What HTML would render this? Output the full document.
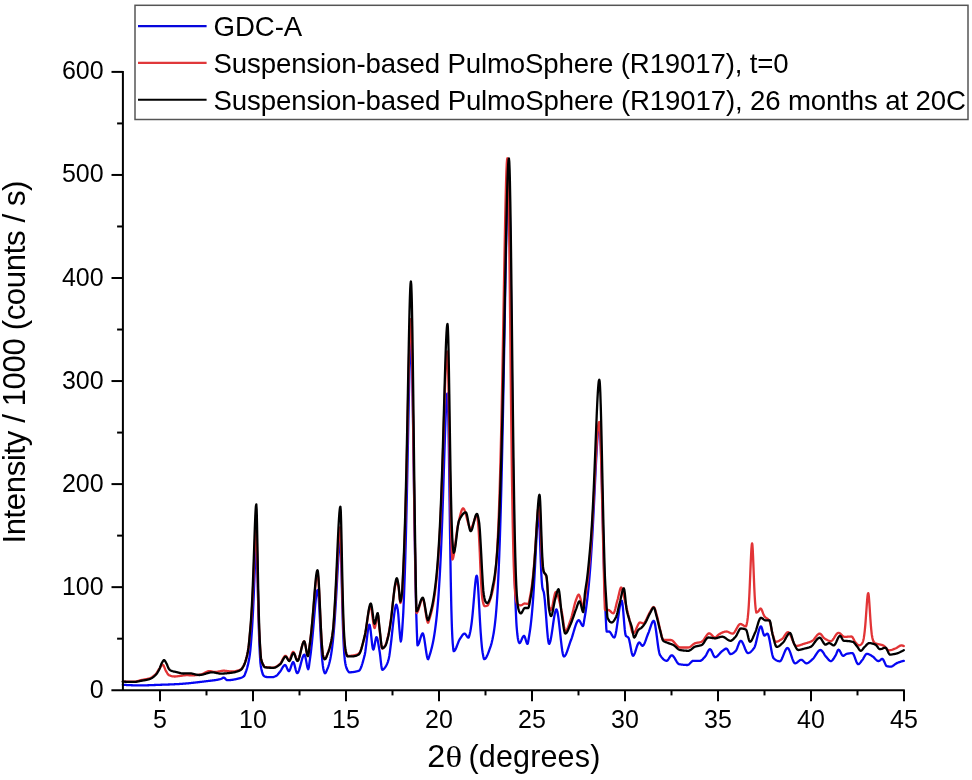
<!DOCTYPE html>
<html><head><meta charset="utf-8"><style>
html,body{margin:0;padding:0;background:#fff;}
body{width:972px;height:780px;overflow:hidden;}
svg{display:block;will-change:transform;}
text{font-family:"Liberation Sans",sans-serif;fill:#000;}
</style></head><body>
<svg width="972" height="780" viewBox="0 0 972 780">
<rect width="972" height="780" fill="#fff"/>
<g fill="none" stroke-linejoin="round" stroke-linecap="round" stroke-width="2.3">
<path stroke="#0606f2" d="M122.80 684.79 L123.00 684.80 L123.30 684.82 L123.80 684.85 L124.30 684.88 L124.80 684.91 L125.30 684.94 L125.80 684.97 L126.30 685.00 L126.80 685.03 L127.30 685.05 L127.80 685.08 L128.30 685.10 L128.80 685.13 L129.30 685.15 L129.80 685.17 L130.30 685.19 L130.80 685.21 L131.30 685.23 L131.80 685.25 L132.30 685.27 L132.80 685.28 L133.30 685.30 L133.80 685.31 L134.30 685.33 L134.80 685.34 L135.30 685.35 L135.80 685.36 L136.30 685.37 L136.80 685.38 L137.30 685.38 L137.80 685.39 L138.30 685.39 L138.80 685.40 L139.30 685.40 L139.80 685.40 L140.00 685.40 L140.30 685.40 L140.80 685.40 L141.30 685.40 L141.80 685.39 L142.30 685.39 L142.80 685.38 L143.30 685.37 L143.80 685.36 L144.30 685.35 L144.80 685.34 L145.30 685.33 L145.80 685.32 L146.30 685.31 L146.80 685.29 L147.30 685.28 L147.80 685.26 L148.30 685.24 L148.80 685.23 L149.30 685.21 L149.80 685.19 L150.30 685.17 L150.80 685.16 L151.30 685.14 L151.80 685.12 L152.30 685.10 L152.80 685.08 L153.30 685.06 L153.80 685.04 L154.30 685.02 L154.80 685.00 L155.30 684.98 L155.80 684.96 L156.30 684.94 L156.80 684.92 L157.30 684.90 L157.80 684.88 L158.30 684.86 L158.80 684.84 L159.30 684.82 L159.80 684.81 L160.00 684.80 L160.30 684.79 L160.80 684.77 L161.30 684.76 L161.80 684.74 L162.30 684.72 L162.80 684.71 L163.30 684.69 L163.80 684.67 L164.30 684.65 L164.80 684.64 L165.30 684.62 L165.80 684.60 L166.30 684.59 L166.80 684.57 L167.30 684.55 L167.80 684.53 L168.30 684.51 L168.80 684.50 L169.30 684.48 L169.80 684.46 L170.30 684.44 L170.80 684.42 L171.30 684.40 L171.80 684.38 L172.30 684.36 L172.80 684.34 L173.30 684.31 L173.80 684.29 L174.30 684.27 L174.80 684.24 L175.30 684.22 L175.80 684.19 L176.30 684.17 L176.80 684.14 L177.30 684.12 L177.60 684.10 L177.80 684.09 L178.30 684.06 L178.80 684.03 L179.30 684.00 L179.80 683.97 L180.30 683.93 L180.80 683.90 L181.30 683.87 L181.80 683.83 L182.30 683.79 L182.80 683.75 L183.30 683.71 L183.80 683.67 L184.30 683.63 L184.80 683.59 L185.30 683.55 L185.80 683.50 L186.30 683.46 L186.80 683.41 L187.30 683.37 L187.80 683.32 L188.30 683.27 L188.80 683.23 L189.30 683.18 L189.80 683.13 L190.30 683.08 L190.80 683.02 L191.30 682.97 L191.80 682.92 L192.30 682.87 L192.80 682.81 L193.30 682.76 L193.80 682.70 L194.30 682.65 L194.80 682.59 L195.30 682.54 L195.80 682.48 L196.30 682.42 L196.80 682.36 L197.30 682.31 L197.80 682.25 L198.30 682.19 L198.80 682.13 L199.30 682.07 L199.80 682.01 L200.30 681.95 L200.80 681.89 L201.30 681.83 L201.80 681.77 L202.30 681.71 L202.80 681.65 L203.30 681.58 L203.80 681.52 L204.30 681.46 L204.80 681.40 L205.30 681.34 L205.80 681.27 L206.30 681.21 L206.40 681.20 L206.80 681.15 L207.30 681.09 L207.80 681.03 L208.30 680.97 L208.80 680.92 L209.30 680.86 L209.80 680.80 L210.30 680.75 L210.80 680.69 L211.30 680.63 L211.80 680.57 L212.30 680.51 L212.80 680.45 L213.30 680.39 L213.80 680.32 L214.30 680.25 L214.80 680.18 L215.30 680.11 L215.80 680.03 L216.30 679.95 L216.80 679.86 L217.30 679.77 L217.80 679.68 L218.30 679.58 L218.80 679.47 L219.30 679.36 L219.80 679.25 L220.30 679.13 L220.80 679.00 L221.30 678.80 L221.80 678.50 L222.30 678.17 L222.80 677.87 L223.30 677.66 L223.70 677.60 L223.80 677.61 L224.30 677.79 L224.80 678.18 L225.30 678.68 L225.80 679.22 L226.30 679.71 L226.80 680.06 L227.30 680.20 L227.80 680.20 L228.30 680.18 L228.80 680.16 L229.30 680.13 L229.80 680.10 L230.30 680.05 L230.80 680.00 L231.30 679.95 L231.80 679.88 L232.30 679.81 L232.80 679.74 L233.30 679.66 L233.80 679.57 L234.30 679.48 L234.80 679.38 L235.30 679.28 L235.80 679.18 L236.30 679.07 L236.80 678.96 L237.30 678.84 L237.80 678.72 L238.30 678.60 L238.80 678.48 L239.30 678.35 L239.50 678.30 L239.80 678.22 L240.30 678.08 L240.80 677.93 L241.30 677.75 L241.80 677.54 L242.30 677.29 L242.80 677.01 L243.30 676.67 L243.80 676.28 L243.90 676.20 L244.30 675.68 L244.80 674.65 L245.30 673.36 L245.80 672.00 L246.30 670.59 L246.80 669.04 L247.30 667.31 L247.80 665.39 L248.20 663.70 L248.30 663.26 L248.80 660.85 L249.30 658.04 L249.80 654.71 L250.00 653.20 L250.30 650.58 L250.80 645.16 L251.30 638.81 L251.80 632.00 L252.30 624.33 L252.50 620.94 L252.80 615.46 L253.00 611.55 L253.30 605.29 L253.50 600.89 L253.80 593.96 L253.90 591.58 L254.30 581.81 L254.70 571.97 L254.80 569.57 L255.10 562.65 L255.30 558.42 L255.50 554.59 L255.80 549.87 L256.15 546.25 L256.30 545.50 L256.50 545.00 L256.80 548.24 L256.85 549.09 L257.20 560.14 L257.30 564.11 L257.50 572.99 L257.80 586.98 L257.90 591.59 L258.30 609.13 L258.70 624.23 L258.80 627.56 L259.10 636.64 L259.30 641.97 L259.50 646.62 L259.80 652.85 L260.30 661.53 L260.50 663.70 L260.80 665.95 L261.30 668.80 L261.80 670.91 L262.10 672.00 L262.30 672.71 L262.80 674.32 L263.30 675.30 L263.80 675.76 L264.30 676.15 L264.80 676.46 L265.30 676.71 L265.80 676.88 L266.30 676.98 L266.50 677.00 L266.80 677.02 L267.30 677.05 L267.80 677.08 L268.30 677.11 L268.80 677.13 L269.30 677.15 L269.80 677.17 L270.30 677.18 L270.80 677.19 L271.30 677.20 L271.80 677.20 L272.00 677.20 L272.30 677.19 L272.80 677.14 L273.30 677.04 L273.80 676.90 L274.30 676.73 L274.80 676.54 L275.30 676.32 L275.80 676.09 L276.00 676.00 L276.30 675.84 L276.80 675.46 L277.30 674.99 L277.80 674.44 L278.30 673.84 L278.80 673.20 L279.30 672.56 L279.80 671.94 L280.00 671.70 L280.30 671.32 L280.80 670.59 L281.30 669.77 L281.80 668.90 L282.30 668.02 L282.80 667.19 L283.30 666.43 L283.80 665.79 L284.30 665.32 L284.80 665.05 L285.10 665.00 L285.30 665.05 L285.80 665.55 L286.30 666.46 L286.80 667.61 L287.30 668.83 L287.80 669.94 L288.30 670.79 L288.80 671.19 L288.90 671.20 L289.30 670.98 L289.80 670.17 L290.30 668.93 L290.80 667.44 L291.30 665.86 L291.80 664.37 L292.30 663.13 L292.80 662.32 L293.20 662.10 L293.30 662.12 L293.80 662.77 L294.30 664.16 L294.80 666.01 L295.30 668.07 L295.80 670.07 L296.30 671.77 L296.80 672.89 L297.20 673.20 L297.30 673.19 L297.80 672.83 L298.30 672.03 L298.80 670.85 L299.30 669.38 L299.80 667.68 L300.30 665.83 L300.80 663.90 L301.30 661.97 L301.80 660.12 L302.30 658.42 L302.80 656.95 L303.30 655.77 L303.80 654.97 L304.30 654.61 L304.40 654.60 L304.80 655.03 L305.30 656.57 L305.80 658.89 L306.30 661.62 L306.80 664.38 L307.30 666.81 L307.80 668.54 L308.30 669.20 L308.80 667.47 L309.30 663.80 L309.60 661.63 L309.80 660.30 L310.30 656.70 L310.60 654.38 L310.80 652.77 L311.30 648.45 L311.60 645.70 L311.80 643.79 L312.30 638.73 L312.80 633.31 L313.00 631.06 L313.30 627.60 L313.60 624.06 L313.80 621.67 L314.10 618.06 L314.30 615.65 L314.60 612.06 L314.80 609.71 L315.00 607.41 L315.30 604.10 L315.40 603.04 L315.80 599.07 L316.20 595.67 L316.30 594.93 L316.60 592.96 L316.80 591.90 L316.90 591.47 L317.25 590.37 L317.30 590.29 L317.60 590.00 L317.80 590.34 L317.95 590.85 L318.30 593.33 L318.60 596.66 L318.80 599.43 L319.00 602.56 L319.30 607.86 L319.40 609.74 L319.80 617.71 L320.20 625.98 L320.30 628.03 L320.60 634.11 L320.80 638.00 L321.10 643.54 L321.30 646.97 L321.60 651.70 L321.80 654.53 L322.20 659.50 L322.30 660.56 L322.80 665.17 L322.90 665.91 L323.30 668.49 L323.60 669.89 L323.80 670.60 L324.30 672.22 L324.80 673.20 L325.00 673.30 L325.30 673.18 L325.80 672.55 L326.30 671.55 L326.80 670.35 L327.30 669.17 L327.80 667.95 L328.30 666.57 L328.80 665.01 L329.30 663.28 L329.80 661.30 L330.30 659.00 L330.80 656.39 L331.30 653.41 L331.80 649.98 L332.30 646.18 L332.80 641.83 L333.30 636.89 L333.80 631.35 L334.30 625.21 L334.80 618.40 L335.00 615.49 L335.30 610.93 L335.70 604.51 L335.80 602.86 L336.30 594.23 L336.80 585.20 L337.30 575.99 L337.70 568.70 L337.80 566.92 L338.10 561.70 L338.30 558.39 L338.50 555.24 L338.80 550.91 L338.90 549.60 L339.30 545.06 L339.60 542.52 L339.80 541.27 L339.95 540.64 L340.30 540.00 L340.65 543.26 L340.80 546.36 L341.00 552.25 L341.30 563.10 L341.70 579.71 L341.80 583.93 L342.10 596.53 L342.30 604.49 L342.50 612.00 L342.80 622.26 L342.90 625.37 L343.30 636.38 L343.80 646.96 L344.30 654.49 L344.80 659.71 L344.90 660.52 L345.30 663.25 L345.60 664.84 L345.80 665.72 L346.30 667.49 L346.80 668.80 L347.30 669.83 L347.80 670.66 L348.30 671.34 L348.80 672.02 L349.20 672.30 L349.30 672.30 L349.80 672.29 L350.30 672.28 L350.80 672.26 L351.30 672.23 L351.80 672.19 L352.30 672.15 L352.80 672.09 L353.30 672.03 L353.80 671.96 L354.30 671.88 L354.80 671.80 L355.30 671.70 L355.80 671.60 L356.30 671.49 L356.80 671.37 L357.30 671.24 L357.80 671.10 L358.30 670.95 L358.80 670.80 L359.30 670.49 L359.80 669.91 L360.30 669.07 L360.80 668.02 L361.30 666.76 L361.80 665.33 L362.30 663.76 L362.80 662.06 L363.30 660.28 L363.80 658.43 L364.30 656.54 L364.60 655.40 L364.80 654.55 L365.30 651.68 L365.80 648.02 L366.30 643.85 L366.80 639.46 L367.30 635.16 L367.80 631.23 L368.30 627.97 L368.80 625.67 L369.30 624.63 L369.40 624.60 L369.80 625.34 L370.30 627.98 L370.80 631.95 L371.30 636.62 L371.80 641.35 L372.30 645.51 L372.80 648.47 L373.30 649.60 L373.80 648.78 L374.30 646.70 L374.80 643.94 L375.30 641.06 L375.80 638.63 L376.30 637.24 L376.50 637.10 L376.80 637.33 L377.30 638.63 L377.80 640.81 L378.30 643.55 L378.80 646.58 L379.30 649.58 L379.50 650.70 L379.80 652.62 L380.30 656.71 L380.80 661.27 L381.30 665.48 L381.80 668.59 L382.30 669.80 L382.80 669.70 L383.30 669.41 L383.80 668.98 L384.30 668.42 L384.80 667.76 L385.30 667.05 L385.80 666.30 L386.00 666.00 L386.30 665.52 L386.80 664.56 L387.30 663.41 L387.80 662.04 L388.30 660.45 L388.70 659.00 L388.80 658.59 L389.30 655.96 L389.80 652.55 L390.30 648.66 L390.80 644.60 L391.00 643.00 L391.30 640.50 L391.80 635.93 L392.30 631.09 L392.80 626.32 L393.30 621.90 L393.80 617.72 L394.30 613.69 L394.80 610.18 L395.00 609.00 L395.30 607.41 L395.80 605.40 L396.20 604.60 L396.30 604.63 L396.80 605.58 L397.30 607.51 L397.80 610.00 L398.30 614.43 L398.80 621.07 L399.30 627.78 L399.50 630.00 L399.80 633.34 L400.30 638.89 L400.80 641.50 L401.30 639.74 L401.80 635.06 L402.30 628.42 L402.80 620.73 L403.10 616.00 L403.30 612.40 L403.80 600.79 L403.90 598.34 L404.30 588.08 L404.80 573.92 L404.90 570.91 L405.30 558.03 L405.60 547.53 L405.80 540.16 L406.30 520.32 L406.30 520.32 L406.80 498.49 L406.90 493.93 L407.30 474.92 L407.40 470.04 L407.80 450.01 L407.90 444.95 L408.30 424.57 L408.30 424.57 L408.70 404.58 L408.80 399.74 L409.10 385.77 L409.30 377.08 L409.50 369.05 L409.80 358.46 L409.90 355.39 L410.20 347.70 L410.30 345.70 L410.55 341.95 L410.80 340.22 L410.90 340.00 L411.25 342.53 L411.30 343.18 L411.60 350.00 L411.80 356.35 L411.90 360.09 L412.30 378.21 L412.30 378.21 L412.70 400.71 L412.80 406.84 L413.10 426.37 L413.30 439.98 L413.50 453.91 L413.80 475.05 L413.90 482.06 L414.30 509.71 L414.40 516.39 L414.80 542.09 L414.90 548.10 L415.30 570.81 L415.50 581.04 L415.80 595.04 L416.20 611.26 L416.30 614.79 L416.80 630.24 L416.90 632.82 L417.30 643.24 L417.50 645.40 L417.80 645.28 L418.30 644.64 L418.80 643.52 L419.30 642.08 L419.80 640.43 L420.30 638.71 L420.80 637.04 L421.30 635.54 L421.80 634.35 L422.30 633.60 L422.70 633.40 L422.80 633.43 L423.30 634.28 L423.80 636.18 L424.30 638.85 L424.80 642.07 L425.30 645.58 L425.80 649.15 L426.30 652.51 L426.80 655.43 L427.30 657.67 L427.80 658.97 L428.10 659.20 L428.30 659.06 L428.80 657.84 L429.30 656.15 L429.40 655.84 L429.80 654.64 L430.30 653.05 L430.80 651.36 L431.30 649.54 L431.80 647.61 L432.30 645.54 L432.40 645.10 L432.80 643.28 L433.30 640.77 L433.80 638.02 L434.30 635.03 L434.40 634.41 L434.80 631.78 L435.30 628.19 L435.80 624.27 L436.30 620.01 L436.40 619.12 L436.80 615.35 L437.30 610.13 L437.80 604.37 L437.90 603.16 L438.30 598.04 L438.80 590.98 L439.30 583.29 L439.40 581.68 L439.80 574.82 L440.30 565.35 L440.40 563.36 L440.80 554.97 L441.30 543.58 L441.40 541.21 L441.80 531.20 L442.10 523.25 L442.30 517.75 L442.80 503.34 L442.80 503.34 L443.30 488.10 L443.40 484.99 L443.80 472.31 L443.90 469.13 L444.30 456.35 L444.40 453.18 L444.80 440.75 L444.80 440.75 L445.20 428.96 L445.30 426.18 L445.60 418.24 L445.80 413.40 L446.00 408.99 L446.30 403.25 L446.40 401.61 L446.70 397.53 L446.80 396.48 L447.05 394.52 L447.30 393.61 L447.40 393.50 L447.75 397.02 L447.80 397.92 L448.10 407.30 L448.30 415.90 L448.40 420.89 L448.80 444.47 L448.80 444.47 L449.20 472.25 L449.30 479.53 L449.60 501.87 L449.80 516.66 L450.00 531.12 L450.30 551.79 L450.40 558.24 L450.80 582.04 L450.90 587.34 L451.30 606.18 L451.40 610.16 L451.80 623.98 L452.00 629.43 L452.30 636.19 L452.70 642.82 L452.80 644.02 L453.30 649.40 L453.70 651.20 L453.80 651.19 L454.30 650.96 L454.80 650.42 L455.30 649.63 L455.80 648.63 L456.30 647.48 L456.80 646.23 L457.30 644.91 L457.80 643.58 L458.30 642.30 L458.80 641.10 L459.30 640.03 L459.80 639.15 L459.90 639.00 L460.30 638.40 L460.80 637.62 L461.30 636.82 L461.80 636.05 L462.30 635.33 L462.80 634.69 L463.30 634.17 L463.80 633.81 L464.30 633.62 L464.50 633.60 L464.80 633.67 L465.30 634.03 L465.80 634.62 L466.30 635.34 L466.80 636.11 L467.30 636.81 L467.80 637.37 L468.30 637.67 L468.50 637.70 L468.80 637.35 L469.30 635.71 L469.70 634.13 L469.80 633.75 L470.30 631.49 L470.70 629.35 L470.80 628.77 L471.30 625.45 L471.40 624.73 L471.80 621.55 L472.10 618.92 L472.30 617.05 L472.70 613.02 L472.80 611.96 L473.20 607.51 L473.30 606.36 L473.70 601.62 L473.80 600.41 L474.10 596.75 L474.30 594.32 L474.50 591.91 L474.80 588.41 L474.90 587.29 L475.30 583.12 L475.70 579.66 L475.80 578.94 L476.00 577.69 L476.30 576.34 L476.35 576.21 L476.70 575.70 L476.80 575.79 L477.05 576.51 L477.30 578.05 L477.40 578.87 L477.70 581.99 L477.80 583.22 L478.10 587.44 L478.30 590.59 L478.50 593.96 L478.80 599.30 L478.90 601.13 L479.30 608.55 L479.70 615.90 L479.80 617.69 L480.20 624.61 L480.30 626.26 L480.70 632.47 L480.80 633.90 L481.30 640.48 L481.80 645.92 L482.00 647.78 L482.30 650.30 L482.70 653.03 L482.80 653.59 L483.30 656.39 L483.80 658.55 L484.20 659.20 L484.30 659.20 L484.80 659.03 L485.30 658.64 L485.80 658.06 L486.30 657.30 L486.80 656.38 L487.30 655.32 L487.80 654.15 L488.30 652.88 L488.80 651.54 L489.30 650.14 L489.80 648.71 L490.30 647.27 L490.60 646.41 L490.80 645.82 L491.30 644.16 L491.80 642.24 L492.30 640.09 L492.80 637.70 L493.30 635.10 L493.60 633.43 L493.80 632.25 L494.30 628.92 L494.80 625.06 L495.30 620.68 L495.60 617.81 L495.80 615.77 L496.30 610.00 L496.80 603.36 L497.30 595.92 L497.60 591.09 L497.80 587.65 L498.30 577.91 L498.80 566.79 L499.10 559.57 L499.30 554.48 L499.80 540.41 L500.30 524.79 L500.60 514.83 L500.80 507.86 L501.30 488.82 L501.60 476.63 L501.80 468.19 L502.30 445.78 L502.60 431.69 L502.80 422.00 L503.30 396.65 L503.80 370.16 L504.00 359.35 L504.30 342.91 L504.60 326.35 L504.80 315.31 L505.10 298.82 L505.30 287.98 L505.60 272.01 L505.80 261.66 L506.00 251.63 L506.30 237.28 L506.40 232.74 L506.80 215.87 L507.20 201.54 L507.30 198.44 L507.60 190.26 L507.80 185.87 L507.90 184.08 L508.25 179.53 L508.30 179.21 L508.60 178.00 L508.80 179.15 L508.95 180.88 L509.30 189.43 L509.60 201.03 L509.80 210.82 L510.00 222.06 L510.30 241.51 L510.40 248.56 L510.80 279.36 L511.20 313.17 L511.30 321.92 L511.60 348.69 L511.80 366.67 L512.10 393.55 L512.30 411.18 L512.60 436.92 L512.80 453.42 L513.20 484.62 L513.30 491.89 L513.80 525.81 L513.90 531.89 L514.30 554.50 L514.60 569.01 L514.80 577.53 L515.30 596.37 L515.60 605.35 L515.80 610.48 L516.30 621.40 L516.60 626.11 L516.80 628.60 L517.30 633.99 L517.80 637.96 L518.10 639.54 L518.30 640.36 L518.80 642.14 L519.30 643.07 L519.40 643.10 L519.80 642.94 L520.30 642.37 L520.80 641.48 L521.30 640.39 L521.80 639.21 L522.30 638.05 L522.80 637.03 L523.30 636.26 L523.80 635.84 L524.00 635.80 L524.30 635.97 L524.80 636.88 L525.30 638.32 L525.80 640.02 L526.30 641.70 L526.80 643.06 L527.30 643.82 L527.50 643.90 L527.80 643.45 L528.30 641.17 L528.80 638.02 L529.10 636.19 L529.30 635.02 L529.80 631.84 L530.30 628.29 L530.60 626.00 L530.80 624.38 L531.30 619.91 L531.60 616.98 L531.80 614.91 L532.30 609.28 L532.60 605.63 L532.80 603.06 L533.30 596.06 L533.30 596.06 L533.80 588.32 L534.00 585.03 L534.30 579.86 L534.60 574.46 L534.80 570.73 L535.10 564.98 L535.30 561.07 L535.60 555.13 L535.80 551.16 L536.00 547.20 L536.30 541.38 L536.40 539.49 L536.80 532.29 L536.80 532.29 L537.20 525.94 L537.30 524.54 L537.60 520.78 L537.80 518.73 L537.90 517.89 L538.25 515.73 L538.30 515.58 L538.60 515.00 L538.80 515.72 L538.95 516.80 L539.30 521.95 L539.30 521.95 L539.60 528.53 L539.80 533.71 L540.00 539.28 L540.30 547.99 L540.40 550.86 L540.80 561.86 L540.80 561.86 L541.20 571.28 L541.30 573.32 L541.60 578.67 L541.80 581.56 L542.10 585.06 L542.30 586.86 L542.60 588.84 L542.80 589.57 L543.30 590.76 L543.70 591.90 L543.80 592.32 L544.30 595.51 L544.80 600.18 L545.30 605.94 L545.80 612.40 L546.30 619.15 L546.80 625.80 L547.30 631.96 L547.80 637.22 L548.30 641.20 L548.80 643.50 L549.10 643.90 L549.30 643.82 L549.80 643.01 L550.30 641.41 L550.80 639.16 L551.30 636.39 L551.80 633.23 L552.30 629.82 L552.80 626.30 L553.30 622.78 L553.80 619.41 L554.30 616.32 L554.80 613.65 L555.30 611.51 L555.80 610.06 L556.30 609.42 L556.40 609.40 L556.80 609.79 L557.30 611.27 L557.80 613.71 L558.30 616.94 L558.80 620.78 L559.30 625.08 L559.80 629.66 L560.30 634.36 L560.80 639.01 L561.30 643.44 L561.80 647.49 L562.30 650.98 L562.80 653.76 L563.30 655.64 L563.80 656.48 L563.90 656.50 L564.30 656.40 L564.80 656.01 L565.30 655.37 L565.80 654.50 L566.30 653.43 L566.80 652.20 L567.30 650.84 L567.80 649.39 L568.30 647.87 L568.80 646.33 L569.30 644.78 L569.80 643.28 L570.30 641.84 L570.80 640.50 L571.00 640.00 L571.30 639.24 L571.80 637.84 L572.30 636.31 L572.80 634.68 L573.30 633.00 L573.80 631.28 L574.30 629.58 L574.80 627.91 L575.30 626.33 L575.80 624.85 L576.30 623.52 L576.80 622.36 L577.30 621.42 L577.80 620.72 L578.30 620.31 L578.70 620.20 L578.80 620.21 L579.30 620.51 L579.80 621.14 L580.30 622.01 L580.80 623.00 L581.30 624.00 L581.80 624.90 L582.30 625.59 L582.80 625.96 L583.00 626.00 L583.30 625.42 L583.80 622.73 L584.30 619.57 L584.80 616.73 L585.30 613.70 L585.80 610.46 L586.30 606.96 L586.80 603.18 L587.30 599.06 L587.80 594.64 L588.30 589.93 L588.80 584.83 L589.30 579.25 L589.80 573.27 L590.30 566.82 L590.80 559.86 L591.30 552.48 L591.80 544.55 L592.30 536.07 L592.80 527.09 L593.30 517.67 L593.80 507.82 L594.00 503.79 L594.30 497.66 L594.70 489.39 L594.80 487.32 L595.30 476.95 L595.80 466.78 L596.30 457.07 L596.70 449.81 L596.80 448.10 L597.10 443.19 L597.30 440.17 L597.50 437.36 L597.80 433.60 L597.90 432.48 L598.30 428.69 L598.60 426.62 L598.80 425.61 L598.95 425.11 L599.30 424.60 L599.65 425.86 L599.80 427.10 L600.00 429.58 L600.30 434.66 L600.70 443.89 L600.80 446.57 L601.10 455.58 L601.30 462.21 L601.50 469.28 L601.80 480.55 L601.90 484.44 L602.30 500.54 L602.80 521.16 L603.30 541.45 L603.80 560.65 L603.90 564.26 L604.30 578.07 L604.60 587.56 L604.80 593.47 L605.30 606.55 L605.80 618.45 L606.30 628.52 L606.70 631.70 L606.80 631.70 L607.30 631.67 L607.80 631.61 L608.30 631.54 L608.80 631.50 L609.00 631.50 L609.30 631.56 L609.80 631.88 L610.30 632.44 L610.80 633.16 L611.30 633.98 L611.80 634.85 L612.30 635.68 L612.80 636.43 L613.30 637.02 L613.80 637.40 L614.20 637.50 L614.30 637.48 L614.80 636.83 L615.30 635.36 L615.80 633.20 L616.30 630.48 L616.80 627.33 L617.30 623.87 L617.80 620.25 L618.30 616.59 L618.80 613.02 L619.30 609.67 L619.80 606.67 L620.30 604.16 L620.80 602.26 L621.30 601.10 L621.70 600.80 L621.80 600.86 L622.30 602.74 L622.80 606.75 L623.30 612.18 L623.80 618.32 L624.30 624.46 L624.80 629.90 L625.30 633.91 L625.80 635.80 L626.30 636.27 L626.80 636.56 L627.30 636.80 L627.80 637.07 L628.30 637.50 L628.80 638.51 L629.30 640.30 L629.80 642.65 L630.30 645.33 L630.80 648.12 L631.30 650.77 L631.80 653.08 L632.30 654.80 L632.80 655.71 L633.00 655.80 L633.30 655.71 L633.80 655.19 L634.30 654.29 L634.80 653.09 L635.30 651.67 L635.80 650.11 L636.30 648.51 L636.80 646.94 L637.30 645.48 L637.80 644.23 L638.30 643.26 L638.80 642.66 L639.20 642.50 L639.30 642.51 L639.80 642.79 L640.30 643.36 L640.80 644.08 L641.30 644.81 L641.80 645.42 L642.30 645.77 L642.50 645.80 L642.80 645.74 L643.30 645.36 L643.80 644.70 L644.30 643.80 L644.80 642.69 L645.30 641.43 L645.80 640.07 L646.30 638.65 L646.80 637.22 L647.30 635.82 L647.80 634.50 L648.30 633.30 L648.80 632.08 L649.30 630.69 L649.80 629.20 L650.30 627.66 L650.80 626.13 L651.30 624.69 L651.80 623.39 L652.30 622.28 L652.80 621.45 L653.30 620.93 L653.70 620.80 L653.80 620.82 L654.30 621.59 L654.80 623.33 L655.30 625.84 L655.80 628.96 L656.30 632.52 L656.80 636.33 L657.30 640.21 L657.80 644.00 L658.30 647.51 L658.80 650.57 L659.30 653.00 L659.80 654.62 L660.00 655.00 L660.30 655.45 L660.80 656.16 L661.30 656.84 L661.80 657.48 L662.30 658.07 L662.80 658.62 L663.30 659.11 L663.80 659.55 L664.30 659.93 L664.80 660.25 L665.30 660.49 L665.80 660.67 L666.30 660.77 L666.70 660.80 L666.80 660.79 L667.30 660.58 L667.80 660.12 L668.30 659.47 L668.80 658.70 L669.30 657.89 L669.80 657.08 L670.30 656.35 L670.80 655.77 L671.30 655.40 L671.70 655.30 L671.80 655.30 L672.30 655.45 L672.80 655.79 L673.30 656.29 L673.80 656.93 L674.30 657.66 L674.80 658.47 L675.30 659.32 L675.80 660.19 L676.30 661.04 L676.80 661.85 L677.30 662.58 L677.80 663.22 L678.30 663.72 L678.80 664.06 L679.20 664.20 L679.30 664.22 L679.80 664.31 L680.30 664.39 L680.80 664.47 L681.30 664.54 L681.80 664.61 L682.30 664.67 L682.80 664.73 L683.30 664.78 L683.80 664.83 L684.30 664.87 L684.80 664.91 L685.30 664.94 L685.80 664.96 L686.30 664.98 L686.80 664.99 L687.30 665.00 L687.50 665.00 L687.80 664.97 L688.30 664.78 L688.80 664.46 L689.30 664.04 L689.80 663.54 L690.30 663.01 L690.80 662.47 L691.30 661.95 L691.80 661.50 L692.30 661.13 L692.80 660.89 L693.30 660.80 L693.80 660.80 L694.30 660.80 L694.80 660.80 L695.30 660.80 L695.80 660.80 L696.30 660.80 L696.80 660.80 L697.30 660.80 L697.80 660.80 L698.30 660.80 L698.80 660.80 L699.30 660.80 L699.80 660.80 L700.00 660.80 L700.30 660.78 L700.80 660.63 L701.30 660.38 L701.80 660.03 L702.30 659.60 L702.80 659.11 L703.30 658.58 L703.80 658.03 L704.30 657.47 L704.80 656.91 L705.00 656.70 L705.30 656.34 L705.80 655.59 L706.30 654.69 L706.80 653.70 L707.30 652.69 L707.80 651.70 L708.30 650.81 L708.80 650.06 L709.30 649.51 L709.80 649.23 L710.00 649.20 L710.30 649.28 L710.80 649.73 L711.30 650.49 L711.80 651.49 L712.30 652.61 L712.80 653.79 L713.30 654.91 L713.80 655.91 L714.30 656.67 L714.80 657.12 L715.10 657.20 L715.30 657.19 L715.80 657.08 L716.30 656.85 L716.80 656.54 L717.30 656.14 L717.80 655.67 L718.30 655.16 L718.80 654.60 L719.30 654.03 L719.80 653.45 L720.30 652.88 L720.80 652.34 L721.30 651.83 L721.80 651.38 L722.30 651.00 L722.80 650.64 L723.30 650.25 L723.80 649.86 L724.30 649.48 L724.80 649.15 L725.30 648.88 L725.80 648.69 L726.30 648.60 L726.40 648.60 L726.80 648.75 L727.30 649.28 L727.80 650.09 L728.30 651.05 L728.80 652.05 L729.30 652.96 L729.80 653.67 L730.30 654.06 L730.50 654.10 L730.80 654.08 L731.30 653.99 L731.80 653.83 L732.30 653.59 L732.80 653.30 L733.30 652.97 L733.80 652.58 L734.30 652.17 L734.80 651.73 L735.30 651.28 L735.60 651.00 L735.80 650.78 L736.30 650.01 L736.80 648.96 L737.30 647.73 L737.80 646.39 L738.30 645.03 L738.80 643.73 L739.30 642.57 L739.80 641.64 L740.30 641.02 L740.80 640.80 L741.30 640.97 L741.80 641.45 L742.30 642.18 L742.80 643.12 L743.30 644.22 L743.80 645.43 L744.30 646.69 L744.80 647.97 L745.30 649.21 L745.80 650.36 L746.30 651.37 L746.80 652.19 L747.30 652.77 L747.80 653.07 L748.00 653.10 L748.30 653.08 L748.80 652.98 L749.30 652.79 L749.80 652.52 L750.30 652.18 L750.80 651.77 L751.30 651.31 L751.80 650.80 L752.30 650.24 L752.80 649.65 L753.30 649.03 L753.80 648.39 L754.10 648.00 L754.30 647.70 L754.80 646.62 L755.30 645.15 L755.80 643.37 L756.30 641.36 L756.80 639.20 L757.30 636.98 L757.80 634.77 L758.30 632.65 L758.80 630.72 L759.30 629.05 L759.80 627.72 L760.30 626.81 L760.80 626.41 L760.90 626.40 L761.30 626.73 L761.80 627.91 L762.30 629.64 L762.80 631.59 L763.30 633.45 L763.80 634.88 L764.30 635.58 L764.40 635.60 L764.80 635.50 L765.30 635.17 L765.80 634.70 L766.30 634.21 L766.80 633.81 L767.30 633.61 L767.40 633.60 L767.80 633.87 L768.30 634.90 L768.80 636.58 L769.30 638.75 L769.80 641.29 L770.30 644.06 L770.80 646.92 L771.30 649.74 L771.80 652.37 L772.30 654.68 L772.80 656.53 L773.30 657.79 L773.60 658.20 L773.80 658.38 L774.30 658.81 L774.80 659.21 L775.30 659.58 L775.80 659.93 L776.30 660.24 L776.80 660.51 L777.30 660.75 L777.80 660.95 L778.30 661.11 L778.80 661.22 L779.30 661.28 L779.70 661.30 L779.80 661.29 L780.30 661.08 L780.80 660.58 L781.30 659.85 L781.80 658.93 L782.30 657.85 L782.80 656.67 L783.30 655.42 L783.80 654.14 L784.30 652.88 L784.80 651.68 L785.30 650.58 L785.80 649.62 L786.30 648.85 L786.80 648.30 L787.30 648.03 L787.50 648.00 L787.80 648.07 L788.30 648.47 L788.80 649.19 L789.30 650.17 L789.80 651.36 L790.30 652.70 L790.80 654.15 L791.30 655.65 L791.80 657.15 L792.30 658.60 L792.80 659.94 L793.30 661.13 L793.80 662.11 L794.30 662.83 L794.80 663.23 L795.10 663.30 L795.30 663.29 L795.80 663.18 L796.30 662.96 L796.80 662.65 L797.30 662.29 L797.80 661.89 L798.30 661.47 L798.80 661.05 L799.30 660.66 L799.80 660.32 L800.30 660.04 L800.80 659.86 L801.30 659.80 L801.80 659.89 L802.30 660.15 L802.80 660.53 L803.30 660.99 L803.80 661.50 L804.30 662.01 L804.80 662.48 L805.30 662.88 L805.80 663.17 L806.30 663.30 L806.40 663.30 L806.80 663.27 L807.30 663.16 L807.80 662.97 L808.30 662.72 L808.80 662.41 L809.30 662.05 L809.80 661.66 L810.30 661.24 L810.80 660.80 L811.30 660.35 L811.80 659.90 L812.30 659.46 L812.60 659.20 L812.80 659.02 L813.30 658.50 L813.80 657.89 L814.30 657.21 L814.80 656.47 L815.30 655.69 L815.80 654.89 L816.30 654.10 L816.80 653.32 L817.30 652.58 L817.80 651.90 L818.30 651.30 L818.80 650.78 L819.30 650.39 L819.80 650.12 L820.30 650.00 L820.40 650.00 L820.80 650.07 L821.30 650.33 L821.80 650.75 L822.30 651.31 L822.80 651.97 L823.30 652.70 L823.80 653.49 L824.30 654.28 L824.80 655.06 L825.30 655.79 L825.80 656.45 L826.20 656.90 L826.30 657.00 L826.80 657.56 L827.30 658.16 L827.80 658.77 L828.30 659.36 L828.80 659.91 L829.30 660.39 L829.80 660.77 L830.30 661.01 L830.80 661.10 L831.30 661.00 L831.80 660.71 L832.30 660.26 L832.80 659.69 L833.30 659.02 L833.80 658.28 L834.30 657.51 L834.80 656.72 L835.30 655.95 L835.40 655.80 L835.80 655.07 L836.30 653.89 L836.80 652.57 L837.30 651.31 L837.80 650.31 L838.30 649.76 L838.50 649.70 L838.80 649.77 L839.30 650.19 L839.80 650.89 L840.30 651.77 L840.80 652.75 L841.30 653.73 L841.80 654.61 L842.30 655.31 L842.80 655.73 L843.10 655.80 L843.30 655.79 L843.80 655.64 L844.30 655.38 L844.80 655.05 L845.30 654.68 L845.80 654.33 L846.30 654.03 L846.80 653.82 L846.90 653.80 L847.30 653.72 L847.80 653.61 L848.30 653.52 L848.80 653.43 L849.30 653.35 L849.80 653.28 L850.30 653.22 L850.80 653.17 L851.30 653.13 L851.80 653.11 L852.30 653.10 L852.80 653.33 L853.30 653.95 L853.80 654.89 L854.30 656.06 L854.80 657.39 L855.30 658.79 L855.80 660.18 L856.30 661.49 L856.80 662.62 L857.30 663.50 L857.80 664.05 L858.20 664.20 L858.30 664.20 L858.80 664.04 L859.30 663.71 L859.80 663.22 L860.30 662.63 L860.80 661.98 L861.30 661.29 L861.80 660.62 L862.30 660.00 L862.80 659.33 L863.30 658.54 L863.80 657.66 L864.30 656.76 L864.80 655.89 L865.30 655.11 L865.80 654.46 L866.30 654.01 L866.80 653.81 L866.90 653.80 L867.30 653.82 L867.80 653.91 L868.30 654.05 L868.80 654.24 L869.30 654.47 L869.80 654.73 L870.30 655.01 L870.80 655.31 L871.30 655.61 L871.80 655.91 L872.30 656.20 L872.80 656.53 L873.30 656.94 L873.80 657.41 L874.30 657.92 L874.80 658.45 L875.30 658.98 L875.80 659.50 L876.30 659.97 L876.80 660.39 L877.30 660.73 L877.80 660.97 L878.30 661.09 L878.50 661.10 L878.80 661.06 L879.30 660.85 L879.80 660.50 L880.30 660.09 L880.80 659.66 L881.30 659.28 L881.80 659.00 L882.30 658.90 L882.80 659.13 L883.30 659.75 L883.80 660.66 L884.30 661.75 L884.80 662.91 L885.30 664.04 L885.80 665.03 L886.30 665.77 L886.80 666.17 L886.90 666.20 L887.30 666.27 L887.80 666.35 L888.30 666.43 L888.80 666.49 L889.30 666.53 L889.80 666.57 L890.30 666.59 L890.80 666.60 L891.30 666.55 L891.80 666.41 L892.30 666.19 L892.80 665.90 L893.30 665.57 L893.80 665.21 L894.30 664.82 L894.80 664.44 L895.30 664.06 L895.80 663.71 L896.30 663.40 L896.80 663.14 L896.90 663.10 L897.30 662.93 L897.80 662.73 L898.30 662.53 L898.80 662.34 L899.30 662.15 L899.80 661.97 L900.30 661.80 L900.80 661.63 L901.30 661.48 L901.80 661.33 L902.30 661.19 L902.80 661.06 L903.30 660.94 L903.80 660.84"/>
<path stroke="#e23436" d="M122.80 681.60 L123.00 681.60 L123.30 681.60 L123.80 681.60 L124.30 681.60 L124.80 681.60 L125.30 681.60 L125.80 681.60 L126.30 681.60 L126.80 681.60 L127.30 681.60 L127.80 681.60 L128.30 681.60 L128.80 681.60 L129.30 681.60 L129.80 681.60 L130.30 681.60 L130.80 681.60 L131.30 681.60 L131.80 681.60 L132.30 681.60 L132.80 681.60 L133.30 681.60 L133.80 681.60 L134.30 681.60 L134.40 681.60 L134.80 681.59 L135.30 681.55 L135.80 681.49 L136.30 681.40 L136.80 681.30 L137.30 681.18 L137.80 681.05 L138.30 680.91 L138.80 680.76 L139.30 680.61 L139.80 680.47 L140.30 680.33 L140.80 680.19 L141.30 680.07 L141.60 680.00 L141.80 679.96 L142.30 679.86 L142.80 679.76 L143.30 679.67 L143.80 679.59 L144.30 679.50 L144.80 679.42 L145.30 679.33 L145.80 679.24 L146.30 679.15 L146.80 679.05 L147.30 678.94 L147.80 678.82 L148.30 678.69 L148.80 678.55 L149.30 678.40 L149.80 678.22 L150.30 678.01 L150.80 677.78 L151.30 677.51 L151.80 677.21 L152.30 676.89 L152.80 676.55 L153.30 676.18 L153.80 675.79 L154.30 675.37 L154.80 674.94 L155.30 674.49 L155.40 674.40 L155.80 673.99 L156.30 673.36 L156.80 672.64 L157.30 671.86 L157.80 671.05 L158.30 670.24 L158.80 669.47 L159.30 668.76 L159.50 668.50 L159.80 668.10 L160.30 667.38 L160.80 666.63 L161.30 665.93 L161.80 665.35 L162.30 664.95 L162.80 664.80 L163.30 665.11 L163.80 665.94 L164.30 667.09 L164.80 668.40 L165.30 669.67 L165.80 670.73 L165.90 670.90 L166.30 671.57 L166.80 672.44 L167.30 673.28 L167.80 674.04 L168.30 674.66 L168.80 675.09 L169.00 675.20 L169.30 675.33 L169.80 675.52 L170.30 675.70 L170.80 675.87 L171.30 676.02 L171.80 676.15 L172.30 676.26 L172.80 676.35 L173.30 676.42 L173.80 676.47 L174.30 676.50 L174.60 676.50 L174.80 676.50 L175.30 676.48 L175.80 676.45 L176.30 676.40 L176.80 676.35 L177.30 676.28 L177.80 676.21 L178.30 676.14 L178.80 676.07 L179.30 676.00 L179.80 675.93 L180.10 675.90 L180.30 675.88 L180.80 675.81 L181.30 675.74 L181.80 675.67 L182.30 675.60 L182.80 675.52 L183.30 675.45 L183.80 675.38 L184.30 675.32 L184.80 675.27 L185.30 675.23 L185.80 675.21 L186.30 675.20 L186.80 675.20 L187.30 675.21 L187.80 675.21 L188.30 675.22 L188.80 675.23 L189.30 675.24 L189.80 675.25 L190.30 675.26 L190.80 675.27 L191.30 675.28 L191.80 675.29 L192.30 675.30 L192.80 675.30 L193.00 675.30 L193.30 675.30 L193.80 675.29 L194.30 675.27 L194.80 675.24 L195.30 675.21 L195.80 675.17 L196.30 675.12 L196.80 675.06 L197.30 675.00 L197.80 674.94 L198.30 674.87 L198.80 674.80 L199.30 674.72 L199.80 674.64 L200.30 674.56 L200.70 674.50 L200.80 674.48 L201.30 674.37 L201.80 674.21 L202.30 674.02 L202.80 673.80 L203.30 673.55 L203.80 673.29 L204.30 673.01 L204.80 672.74 L205.30 672.46 L205.80 672.19 L206.30 671.94 L206.80 671.71 L207.30 671.51 L207.80 671.34 L208.30 671.21 L208.80 671.13 L209.30 671.10 L209.80 671.12 L210.30 671.17 L210.80 671.25 L211.30 671.35 L211.80 671.47 L212.30 671.59 L212.80 671.70 L213.30 671.81 L213.80 671.90 L214.30 671.96 L214.80 672.00 L215.00 672.00 L215.30 672.00 L215.80 671.97 L216.30 671.92 L216.80 671.86 L217.30 671.78 L217.80 671.68 L218.30 671.58 L218.80 671.47 L219.30 671.36 L219.80 671.25 L220.30 671.14 L220.80 671.04 L221.30 670.94 L221.80 670.86 L222.30 670.79 L222.80 670.74 L223.30 670.71 L223.70 670.70 L223.80 670.70 L224.30 670.71 L224.80 670.74 L225.30 670.78 L225.80 670.83 L226.30 670.89 L226.80 670.95 L227.30 671.02 L227.80 671.09 L228.30 671.16 L228.80 671.23 L229.30 671.30 L229.80 671.36 L230.30 671.41 L230.80 671.45 L231.30 671.48 L231.80 671.50 L232.00 671.50 L232.30 671.50 L232.80 671.48 L233.30 671.45 L233.80 671.41 L234.30 671.35 L234.80 671.28 L235.30 671.19 L235.80 671.09 L236.30 670.98 L236.80 670.86 L237.30 670.72 L237.80 670.57 L238.30 670.40 L238.80 670.23 L239.30 670.04 L239.80 669.83 L240.30 669.62 L240.80 669.39 L241.00 669.30 L241.30 669.12 L241.80 668.64 L242.30 667.98 L242.80 667.20 L243.30 666.33 L243.70 665.60 L243.80 665.41 L244.30 664.35 L244.80 663.10 L245.30 661.67 L245.80 660.10 L246.30 658.40 L246.80 656.55 L247.30 654.44 L247.80 652.00 L248.30 649.13 L248.40 648.50 L248.80 645.38 L249.30 640.41 L249.80 635.06 L250.00 633.00 L250.30 630.04 L250.80 624.88 L250.90 623.74 L251.30 618.69 L251.60 614.46 L251.80 611.42 L252.20 604.74 L252.30 602.95 L252.70 595.24 L252.80 593.19 L253.20 584.48 L253.30 582.20 L253.60 575.07 L253.80 570.17 L254.00 565.19 L254.30 557.70 L254.40 555.25 L254.80 545.83 L254.80 545.83 L255.20 537.69 L255.30 535.95 L255.50 532.92 L255.80 529.58 L255.85 529.26 L256.20 528.00 L256.30 528.47 L256.55 532.15 L256.80 539.61 L256.90 543.37 L257.20 556.41 L257.30 561.05 L257.60 575.30 L257.80 584.43 L258.00 593.10 L258.30 604.86 L258.40 608.43 L258.80 621.03 L259.20 631.16 L259.30 633.23 L259.80 642.36 L260.20 648.50 L260.30 649.96 L260.80 656.78 L261.00 658.40 L261.30 659.85 L261.80 661.62 L262.30 662.87 L262.60 663.50 L262.80 663.91 L263.30 664.92 L263.80 665.82 L264.30 666.52 L264.80 666.93 L265.00 667.00 L265.30 667.05 L265.80 667.12 L266.30 667.19 L266.80 667.25 L267.30 667.31 L267.80 667.36 L268.30 667.41 L268.80 667.45 L269.30 667.48 L269.80 667.51 L270.30 667.54 L270.80 667.56 L271.30 667.57 L271.80 667.58 L272.30 667.59 L272.80 667.60 L273.30 667.60 L273.80 667.57 L274.30 667.48 L274.80 667.33 L275.30 667.13 L275.80 666.89 L276.30 666.61 L276.80 666.30 L277.30 665.95 L277.80 665.58 L278.30 665.19 L278.80 664.79 L279.30 664.38 L279.80 663.97 L280.00 663.80 L280.30 663.51 L280.80 662.86 L281.30 662.04 L281.80 661.12 L282.30 660.13 L282.80 659.13 L283.30 658.18 L283.80 657.32 L284.30 656.61 L284.80 656.09 L285.30 655.83 L285.50 655.80 L285.80 655.89 L286.30 656.40 L286.80 657.20 L287.30 658.15 L287.80 659.08 L288.30 659.83 L288.80 660.26 L289.00 660.30 L289.30 660.18 L289.80 659.49 L290.30 658.36 L290.80 656.95 L291.30 655.44 L291.80 654.00 L292.30 652.80 L292.80 652.02 L293.20 651.80 L293.30 651.81 L293.80 652.25 L294.30 653.18 L294.80 654.45 L295.30 655.90 L295.80 657.36 L296.30 658.68 L296.80 659.70 L297.30 660.25 L297.50 660.30 L297.80 660.19 L298.30 659.55 L298.80 658.43 L299.30 656.92 L299.80 655.12 L300.30 653.12 L300.80 651.01 L301.30 648.90 L301.80 646.87 L302.30 645.02 L302.80 643.44 L303.30 642.24 L303.80 641.50 L304.20 641.30 L304.30 641.33 L304.80 642.37 L305.30 644.53 L305.80 647.35 L306.30 650.35 L306.80 653.07 L307.30 655.04 L307.80 655.80 L308.30 654.46 L308.80 651.29 L309.30 647.55 L309.50 646.18 L309.80 644.16 L310.30 640.45 L310.50 638.88 L310.80 636.41 L311.30 631.99 L311.50 630.13 L311.80 627.22 L312.20 623.10 L312.30 622.04 L312.80 616.52 L312.90 615.38 L313.30 610.71 L313.50 608.32 L313.80 604.70 L314.00 602.27 L314.30 598.63 L314.50 596.23 L314.80 592.70 L314.90 591.55 L315.30 587.14 L315.70 583.14 L315.80 582.23 L316.10 579.71 L316.30 578.26 L316.50 576.99 L316.80 575.48 L317.15 574.37 L317.30 574.15 L317.50 574.00 L317.80 574.70 L317.85 574.89 L318.20 577.52 L318.30 578.55 L318.50 581.05 L318.80 585.60 L318.90 587.28 L319.30 594.87 L319.70 603.29 L319.80 605.46 L320.10 612.04 L320.30 616.39 L320.50 620.64 L320.80 626.76 L321.00 630.61 L321.30 635.98 L321.50 639.23 L321.80 643.66 L322.10 647.48 L322.30 649.78 L322.80 654.51 L322.90 655.00 L323.30 656.40 L323.80 657.78 L324.30 658.68 L324.80 659.00 L325.30 658.72 L325.80 657.99 L326.30 656.91 L326.80 655.64 L327.30 654.29 L327.80 653.00 L328.30 651.75 L328.80 650.41 L329.30 648.95 L329.80 647.34 L330.30 645.57 L330.70 644.00 L330.80 643.59 L331.30 641.36 L331.80 638.80 L332.30 635.83 L332.80 632.36 L333.10 630.00 L333.30 628.13 L333.80 622.06 L334.20 616.65 L334.30 615.30 L334.80 607.99 L334.90 606.45 L335.30 600.01 L335.60 594.93 L335.80 591.42 L336.20 584.13 L336.30 582.27 L336.70 574.66 L336.80 572.73 L337.20 564.99 L337.30 563.06 L337.60 557.33 L337.80 553.60 L338.00 549.98 L338.30 544.82 L338.40 543.20 L338.80 537.28 L339.20 532.51 L339.30 531.52 L339.50 529.85 L339.80 528.04 L339.85 527.87 L340.20 527.20 L340.30 527.56 L340.55 530.43 L340.80 536.32 L340.90 539.33 L341.20 550.09 L341.30 554.03 L341.60 566.54 L341.80 574.95 L342.00 583.20 L342.30 594.89 L342.40 598.53 L342.80 611.78 L343.20 622.69 L343.30 625.02 L343.70 633.16 L343.80 634.86 L344.20 640.63 L344.30 641.80 L344.80 646.60 L345.30 649.87 L345.50 650.88 L345.80 652.15 L346.20 653.50 L346.30 653.80 L346.80 655.28 L347.30 656.00 L347.80 655.99 L348.30 655.98 L348.80 655.96 L349.30 655.93 L349.80 655.89 L350.30 655.84 L350.80 655.79 L351.30 655.73 L351.80 655.67 L352.30 655.61 L352.80 655.54 L353.10 655.50 L353.30 655.47 L353.80 655.39 L354.30 655.29 L354.80 655.18 L355.30 655.05 L355.80 654.89 L356.30 654.72 L356.80 654.53 L357.30 654.31 L357.80 654.07 L358.30 653.80 L358.80 653.50 L359.30 653.04 L359.80 652.30 L360.30 651.31 L360.80 650.10 L361.30 648.70 L361.80 647.15 L362.30 645.47 L362.80 643.70 L363.30 641.86 L363.80 639.99 L364.30 638.11 L364.60 637.00 L364.80 636.21 L365.30 633.79 L365.80 630.87 L366.30 627.58 L366.80 624.09 L367.30 620.54 L367.80 617.06 L368.30 613.82 L368.80 610.95 L369.30 608.61 L369.80 606.94 L370.30 606.08 L370.50 606.00 L370.80 606.34 L371.30 608.19 L371.80 611.23 L372.30 615.00 L372.80 619.00 L373.30 622.77 L373.80 625.81 L374.30 627.66 L374.60 628.00 L374.80 627.83 L375.30 626.18 L375.80 623.33 L376.30 619.99 L376.80 616.85 L377.30 614.64 L377.70 614.00 L377.80 614.10 L378.30 617.00 L378.80 622.29 L379.30 627.76 L379.50 629.50 L379.80 631.94 L380.30 636.39 L380.80 640.84 L381.30 644.72 L381.80 647.46 L382.30 648.50 L382.80 648.38 L383.30 648.03 L383.80 647.51 L384.30 646.86 L384.80 646.12 L385.20 645.50 L385.30 645.33 L385.80 644.27 L386.30 642.86 L386.80 641.17 L387.30 639.28 L387.80 637.25 L388.10 636.00 L388.30 635.13 L388.80 632.72 L389.30 630.00 L389.80 627.01 L390.30 623.80 L390.80 620.40 L391.00 619.00 L391.30 616.74 L391.80 612.46 L392.30 607.86 L392.80 603.25 L393.30 599.00 L393.80 594.87 L394.30 590.83 L394.80 587.49 L395.00 586.50 L395.30 585.17 L395.80 583.13 L396.30 581.76 L396.60 581.50 L396.80 581.59 L397.30 582.49 L397.80 584.11 L398.30 586.14 L398.50 587.00 L398.80 588.99 L399.30 594.28 L399.80 599.78 L400.30 602.89 L400.40 603.00 L400.80 602.37 L401.30 600.08 L401.80 596.61 L402.00 595.00 L402.30 590.95 L402.70 583.38 L402.80 581.54 L403.30 571.72 L403.70 563.02 L403.80 560.70 L404.30 548.18 L404.70 537.14 L404.80 534.23 L405.30 518.43 L405.40 515.07 L405.80 500.82 L406.10 489.38 L406.30 481.38 L406.70 464.48 L406.80 460.10 L407.20 441.93 L407.30 437.28 L407.70 418.25 L407.80 413.45 L408.10 399.01 L408.30 389.48 L408.50 380.15 L408.80 366.66 L408.90 362.39 L409.30 346.62 L409.70 333.73 L409.80 331.05 L410.00 326.47 L410.30 321.52 L410.35 321.04 L410.70 319.20 L410.80 319.49 L411.05 321.79 L411.30 326.76 L411.40 329.42 L411.70 339.73 L411.80 343.87 L412.10 358.25 L412.30 369.25 L412.50 381.24 L412.80 400.70 L412.90 407.47 L413.30 435.61 L413.70 464.38 L413.80 471.50 L414.20 499.47 L414.30 506.19 L414.70 531.88 L414.80 537.90 L415.30 565.54 L415.80 591.44 L416.30 610.80 L416.50 613.00 L416.80 612.90 L417.30 612.34 L417.80 611.37 L418.30 610.06 L418.80 608.53 L419.30 606.84 L419.80 605.10 L420.30 603.40 L420.80 601.83 L421.30 600.47 L421.80 599.42 L422.30 598.77 L422.70 598.60 L422.80 598.62 L423.30 599.43 L423.80 601.19 L424.30 603.69 L424.80 606.70 L425.30 609.98 L425.80 613.31 L426.30 616.45 L426.80 619.18 L427.30 621.27 L427.80 622.49 L428.10 622.70 L428.30 622.53 L428.80 621.13 L429.20 619.76 L429.30 619.45 L429.80 617.88 L430.30 616.21 L430.80 614.44 L431.30 612.54 L431.80 610.50 L432.20 608.77 L432.30 608.32 L432.80 605.92 L433.30 603.25 L433.80 600.34 L434.20 597.84 L434.30 597.19 L434.80 593.73 L435.30 589.92 L435.80 585.77 L436.20 582.21 L436.30 581.28 L436.80 576.28 L437.30 570.72 L437.70 565.89 L437.80 564.62 L438.30 557.84 L438.80 550.36 L439.20 543.92 L439.30 542.24 L439.80 533.14 L440.20 525.19 L440.30 523.11 L440.80 512.06 L441.20 502.54 L441.30 500.06 L441.80 486.91 L441.90 484.17 L442.30 472.75 L442.60 463.81 L442.80 457.68 L443.20 445.05 L443.30 441.84 L443.70 428.83 L443.80 425.57 L444.20 412.53 L444.30 409.31 L444.60 399.81 L444.80 393.68 L445.00 387.76 L445.30 379.40 L445.40 376.80 L445.80 367.34 L446.20 359.80 L446.30 358.25 L446.50 355.62 L446.80 352.81 L446.85 352.54 L447.20 351.50 L447.30 351.83 L447.55 354.47 L447.80 360.15 L447.90 363.15 L448.20 374.63 L448.30 379.15 L448.60 394.54 L448.80 405.94 L449.00 418.00 L449.30 436.74 L449.40 443.01 L449.80 467.71 L450.20 490.61 L450.30 495.87 L450.70 515.18 L450.80 519.48 L451.20 534.45 L451.30 537.48 L451.80 552.35 L452.30 559.50 L452.80 558.92 L453.30 557.30 L453.80 554.82 L454.30 551.66 L454.80 548.01 L455.30 544.05 L455.80 539.96 L456.30 535.91 L456.80 532.10 L457.30 528.71 L457.80 525.91 L458.00 525.00 L458.30 523.71 L458.80 521.49 L459.30 519.25 L459.80 517.04 L460.30 514.94 L460.80 513.02 L461.30 511.33 L461.80 509.96 L462.30 508.96 L462.80 508.40 L463.10 508.30 L463.30 508.34 L463.80 508.78 L464.30 509.65 L464.80 510.88 L465.30 512.40 L465.80 514.14 L466.30 516.03 L466.80 518.00 L467.30 519.99 L467.80 521.92 L468.30 523.73 L468.80 525.34 L469.30 526.70 L469.80 527.72 L470.30 528.34 L470.70 528.50 L470.80 528.49 L471.30 528.16 L471.80 527.41 L472.30 526.33 L472.80 525.00 L473.30 523.50 L473.80 521.91 L474.30 520.31 L474.80 518.79 L475.30 517.42 L475.80 516.28 L476.30 515.46 L476.80 515.04 L477.00 515.00 L477.30 515.77 L477.80 519.75 L478.30 525.56 L478.50 528.00 L478.80 532.41 L479.30 542.08 L479.50 546.20 L479.80 553.02 L480.30 565.78 L480.80 576.90 L481.30 585.87 L481.80 593.64 L482.30 598.50 L482.80 601.17 L483.30 603.42 L483.80 605.08 L484.30 606.03 L484.60 606.20 L484.80 606.20 L485.30 606.15 L485.80 606.07 L486.30 605.94 L486.80 605.78 L487.30 605.59 L487.50 605.50 L487.80 605.27 L488.30 604.50 L488.80 603.37 L489.30 602.02 L489.80 600.57 L490.00 600.00 L490.30 599.13 L490.80 597.60 L491.30 595.94 L491.80 594.12 L492.30 592.13 L492.80 589.94 L493.30 587.52 L493.80 584.85 L494.30 581.91 L494.60 580.00 L494.80 578.58 L495.30 574.13 L495.80 568.65 L496.30 562.46 L496.40 561.16 L496.80 555.50 L497.30 547.22 L497.80 537.78 L497.90 535.76 L498.30 526.98 L498.80 514.41 L499.30 500.40 L499.40 497.47 L499.80 484.73 L500.30 466.85 L500.40 463.09 L500.80 447.17 L501.30 425.54 L501.40 421.04 L501.80 402.16 L502.10 387.23 L502.30 376.98 L502.80 350.35 L502.80 350.35 L503.30 322.60 L503.40 316.99 L503.80 294.30 L503.90 288.64 L504.30 266.11 L504.40 260.57 L504.80 238.92 L504.80 238.92 L505.20 218.61 L505.30 213.82 L505.60 200.25 L505.80 192.00 L506.00 184.50 L506.30 174.78 L506.40 172.01 L506.70 165.11 L506.80 163.33 L507.05 160.02 L507.30 158.49 L507.40 158.30 L507.75 161.57 L507.80 162.41 L508.10 171.24 L508.30 179.47 L508.40 184.32 L508.80 207.86 L508.80 207.86 L509.20 237.23 L509.30 245.26 L509.60 270.90 L509.80 288.84 L510.00 307.26 L510.30 335.37 L510.40 344.72 L510.80 381.84 L510.90 390.86 L511.30 425.80 L511.40 434.05 L511.80 465.37 L512.00 479.62 L512.30 499.30 L512.70 522.36 L512.80 527.46 L513.30 550.02 L513.40 553.69 L513.80 566.75 L514.30 579.65 L514.40 581.63 L514.80 588.53 L515.30 594.83 L515.40 595.68 L515.80 598.53 L516.30 601.34 L516.80 603.10 L516.90 603.31 L517.30 603.98 L517.80 604.61 L518.30 604.96 L518.40 604.99 L518.80 605.08 L519.30 605.18 L519.80 605.24 L520.30 605.29 L520.80 605.30 L521.30 605.22 L521.80 605.02 L522.30 604.73 L522.80 604.40 L523.30 604.07 L523.80 603.78 L524.30 603.58 L524.80 603.50 L525.30 603.53 L525.80 603.60 L526.30 603.70 L526.80 603.80 L527.30 603.90 L527.80 603.97 L528.30 604.00 L528.80 602.86 L529.30 600.43 L529.60 598.95 L529.80 598.04 L530.30 595.55 L530.80 592.78 L531.10 591.00 L531.30 589.73 L531.80 586.24 L532.10 583.95 L532.30 582.34 L532.80 577.94 L533.10 575.09 L533.30 573.08 L533.80 567.61 L533.80 567.61 L534.30 561.57 L534.50 559.00 L534.80 554.96 L535.10 550.74 L535.30 547.83 L535.60 543.34 L535.80 540.29 L536.10 535.65 L536.30 532.54 L536.50 529.45 L536.80 524.90 L536.90 523.43 L537.30 517.81 L537.30 517.81 L537.70 512.84 L537.80 511.75 L538.10 508.81 L538.30 507.21 L538.40 506.55 L538.75 504.87 L538.80 504.75 L539.10 504.30 L539.30 504.94 L539.45 505.89 L539.80 510.45 L539.80 510.45 L540.10 516.26 L540.30 520.85 L540.50 525.78 L540.80 533.48 L540.90 536.02 L541.30 545.74 L541.30 545.74 L541.70 554.08 L541.80 555.88 L542.10 560.61 L542.30 563.17 L542.60 566.26 L542.80 567.83 L543.10 569.61 L543.30 570.40 L543.70 571.60 L543.80 571.85 L544.30 572.89 L544.80 573.68 L545.30 574.44 L545.80 575.37 L546.30 576.68 L546.40 577.00 L546.80 579.53 L547.30 585.19 L547.80 592.22 L548.30 599.09 L548.80 604.30 L549.10 606.00 L549.30 606.67 L549.80 608.17 L550.30 609.32 L550.80 609.94 L551.00 610.00 L551.30 609.80 L551.80 608.67 L552.30 606.75 L552.80 604.30 L553.30 601.56 L553.80 598.77 L554.30 596.17 L554.80 594.02 L555.30 592.55 L555.80 592.00 L556.30 592.23 L556.80 592.90 L557.30 593.94 L557.80 595.31 L558.30 596.96 L558.80 598.84 L559.30 600.89 L559.80 603.06 L560.30 605.32 L560.80 607.59 L561.30 609.83 L561.80 612.00 L562.30 614.60 L562.80 617.92 L563.30 621.54 L563.80 625.07 L564.30 628.09 L564.80 630.21 L565.30 631.00 L565.80 630.84 L566.30 630.38 L566.80 629.66 L567.30 628.73 L567.80 627.62 L568.30 626.38 L568.80 625.03 L569.30 623.63 L569.80 622.21 L570.30 620.81 L570.60 620.00 L570.80 619.44 L571.30 617.87 L571.80 616.07 L572.30 614.10 L572.80 612.03 L573.30 609.90 L573.80 607.78 L574.30 605.73 L574.80 603.80 L575.30 602.04 L575.80 600.53 L576.00 600.00 L576.30 599.22 L576.80 597.86 L577.30 596.57 L577.80 595.50 L578.30 594.79 L578.70 594.60 L578.80 594.62 L579.30 595.18 L579.80 596.39 L580.30 598.06 L580.80 599.99 L581.30 602.01 L581.80 603.90 L582.30 605.50 L582.80 606.59 L583.30 607.00 L583.80 605.16 L584.20 602.76 L584.30 602.24 L584.80 599.56 L585.30 596.72 L585.80 593.68 L586.20 591.07 L586.30 590.39 L586.80 586.82 L587.30 582.95 L587.80 578.79 L588.20 575.28 L588.30 574.37 L588.80 569.55 L589.30 564.30 L589.70 559.84 L589.80 558.68 L590.30 552.60 L590.80 546.06 L591.20 540.56 L591.30 539.14 L591.80 531.67 L592.20 525.34 L592.30 523.72 L592.80 515.30 L593.20 508.28 L593.30 506.50 L593.80 497.29 L593.90 495.42 L594.30 487.83 L594.60 482.07 L594.80 478.22 L595.20 470.53 L595.30 468.63 L595.70 461.11 L595.80 459.27 L596.20 452.10 L596.30 450.37 L596.60 445.37 L596.80 442.22 L597.00 439.24 L597.30 435.10 L597.40 433.83 L597.80 429.31 L597.80 429.31 L598.20 425.79 L598.30 425.07 L598.50 423.87 L598.80 422.59 L598.85 422.47 L599.20 422.00 L599.30 422.15 L599.55 423.33 L599.80 425.91 L599.90 427.29 L600.20 432.68 L600.30 434.86 L600.60 442.49 L600.80 448.39 L601.00 454.91 L601.30 465.66 L601.40 469.46 L601.80 485.57 L601.80 485.57 L602.20 502.67 L602.30 507.02 L602.70 524.57 L602.80 528.92 L603.20 546.12 L603.30 550.30 L603.80 570.35 L603.80 570.35 L604.30 591.52 L604.80 608.08 L605.00 610.00 L605.30 610.00 L605.80 610.00 L606.30 610.00 L606.80 610.00 L607.30 610.00 L607.80 610.00 L608.30 610.00 L608.80 610.09 L609.30 610.34 L609.80 610.71 L610.30 611.16 L610.80 611.65 L611.30 612.14 L611.80 612.59 L612.30 612.96 L612.80 613.21 L613.30 613.30 L613.80 612.95 L614.30 611.99 L614.80 610.55 L615.30 608.76 L615.80 606.74 L616.30 604.64 L616.80 602.58 L617.30 600.68 L617.50 600.00 L617.80 598.94 L618.30 596.89 L618.80 594.67 L619.30 592.45 L619.80 590.44 L620.30 588.82 L620.80 587.78 L621.20 587.50 L621.30 587.52 L621.80 588.09 L622.30 589.36 L622.80 591.15 L623.30 593.30 L623.80 595.63 L624.30 597.99 L624.80 600.20 L625.00 601.00 L625.30 602.19 L625.80 604.27 L626.30 606.43 L626.80 608.63 L627.30 610.82 L627.80 612.96 L628.30 615.00 L628.80 617.11 L629.30 619.43 L629.80 621.86 L630.30 624.29 L630.80 626.62 L631.30 628.75 L631.80 630.59 L632.30 632.03 L632.80 632.97 L633.30 633.30 L633.80 633.13 L634.30 632.65 L634.80 631.92 L635.30 630.99 L635.80 629.91 L636.30 628.74 L636.80 627.54 L637.30 626.35 L637.80 625.23 L638.30 624.23 L638.80 623.42 L639.30 622.83 L639.80 622.53 L640.00 622.50 L640.30 622.52 L640.80 622.62 L641.30 622.77 L641.80 622.95 L642.30 623.12 L642.80 623.25 L643.30 623.30 L643.80 623.17 L644.30 622.81 L644.80 622.24 L645.30 621.50 L645.80 620.62 L646.30 619.63 L646.80 618.57 L647.30 617.46 L647.80 616.33 L648.30 615.22 L648.80 614.16 L649.30 613.18 L649.80 612.31 L650.00 612.00 L650.30 611.53 L650.80 610.67 L651.30 609.77 L651.80 608.90 L652.30 608.12 L652.80 607.50 L653.30 607.11 L653.70 607.00 L653.80 607.01 L654.30 607.48 L654.80 608.51 L655.30 609.95 L655.80 611.66 L656.30 613.50 L656.80 615.31 L657.00 616.00 L657.30 617.08 L657.80 619.14 L658.30 621.40 L658.80 623.76 L659.30 626.07 L659.80 628.22 L660.00 629.00 L660.30 630.19 L660.80 632.36 L661.30 634.58 L661.80 636.65 L662.30 638.38 L662.80 639.56 L663.30 640.00 L663.80 640.00 L664.30 640.00 L664.80 640.00 L665.30 640.00 L665.80 640.00 L666.30 640.00 L666.80 640.00 L667.30 640.00 L667.80 640.00 L668.30 640.00 L668.80 640.00 L669.30 640.00 L669.80 640.00 L670.30 640.00 L670.80 640.00 L671.30 640.06 L671.80 640.25 L672.30 640.53 L672.80 640.91 L673.30 641.36 L673.80 641.87 L674.30 642.43 L674.80 643.02 L675.30 643.63 L675.80 644.24 L676.30 644.84 L676.80 645.41 L677.30 645.94 L677.80 646.42 L678.30 646.83 L678.80 647.15 L679.30 647.38 L679.80 647.49 L680.00 647.50 L680.30 647.50 L680.80 647.50 L681.30 647.50 L681.80 647.50 L682.30 647.50 L682.80 647.50 L683.30 647.50 L683.80 647.50 L684.30 647.50 L684.80 647.50 L685.30 647.50 L685.80 647.50 L686.30 647.50 L686.80 647.50 L687.30 647.50 L687.80 647.50 L688.30 647.50 L688.80 647.45 L689.30 647.29 L689.80 647.05 L690.30 646.75 L690.80 646.38 L691.30 645.98 L691.80 645.56 L692.30 645.13 L692.80 644.70 L693.30 644.30 L693.80 643.94 L694.30 643.62 L694.80 643.38 L695.00 643.30 L695.30 643.20 L695.80 643.06 L696.30 642.93 L696.80 642.82 L697.30 642.72 L697.80 642.63 L698.30 642.54 L698.80 642.46 L699.30 642.36 L699.80 642.26 L700.30 642.14 L700.80 642.00 L701.30 641.85 L701.70 641.70 L701.80 641.66 L702.30 641.35 L702.80 640.90 L703.30 640.33 L703.80 639.67 L704.30 638.94 L704.80 638.17 L705.30 637.37 L705.80 636.59 L706.30 635.83 L706.80 635.13 L707.30 634.50 L707.80 633.99 L708.30 633.60 L708.80 633.36 L709.20 633.30 L709.30 633.30 L709.80 633.43 L710.30 633.70 L710.80 634.08 L711.30 634.55 L711.80 635.08 L712.30 635.62 L712.80 636.15 L713.30 636.63 L713.80 637.04 L714.30 637.33 L714.80 637.49 L715.00 637.50 L715.30 637.46 L715.80 637.25 L716.30 636.89 L716.80 636.43 L717.30 635.91 L717.80 635.38 L718.30 634.88 L718.80 634.46 L719.20 634.20 L719.30 634.15 L719.80 633.88 L720.30 633.62 L720.80 633.35 L721.30 633.09 L721.80 632.84 L722.30 632.60 L722.80 632.38 L723.30 632.17 L723.80 631.99 L724.30 631.83 L724.80 631.70 L725.30 631.60 L725.80 631.53 L726.30 631.50 L726.40 631.50 L726.80 631.53 L727.30 631.62 L727.80 631.77 L728.30 631.97 L728.80 632.20 L729.30 632.45 L729.80 632.70 L730.30 632.95 L730.80 633.17 L731.30 633.36 L731.80 633.50 L732.30 633.59 L732.60 633.60 L732.80 633.58 L733.30 633.38 L733.80 632.99 L734.30 632.43 L734.80 631.74 L735.30 630.95 L735.80 630.08 L736.30 629.17 L736.80 628.25 L737.30 627.34 L737.80 626.49 L738.30 625.71 L738.80 625.05 L739.30 624.52 L739.80 624.16 L740.30 624.00 L740.40 624.00 L740.80 624.04 L741.30 624.17 L741.80 624.39 L742.30 624.66 L742.80 624.97 L743.30 625.30 L743.80 625.62 L744.30 625.91 L744.80 626.15 L745.30 626.32 L745.80 626.40 L745.90 626.40 L746.30 625.67 L746.80 623.71 L746.80 623.71 L747.30 621.13 L747.50 619.82 L747.80 617.41 L748.10 614.46 L748.30 612.16 L748.60 608.11 L748.80 605.03 L749.10 599.83 L749.30 595.97 L749.50 591.82 L749.80 585.11 L749.90 582.78 L750.30 573.09 L750.30 573.09 L750.70 563.38 L750.80 561.06 L751.10 554.52 L751.30 550.72 L751.40 549.10 L751.75 544.81 L751.80 544.49 L752.10 543.30 L752.30 544.08 L752.45 545.25 L752.80 550.68 L752.80 550.68 L753.10 557.31 L753.30 562.34 L753.50 567.61 L753.80 575.58 L753.90 578.16 L754.30 587.83 L754.30 587.83 L754.70 595.98 L754.80 597.73 L755.10 602.36 L755.30 604.90 L755.60 607.99 L755.80 609.74 L756.30 612.50 L756.80 612.40 L757.30 612.14 L757.80 611.80 L758.20 611.50 L758.30 611.42 L758.80 610.79 L759.30 609.95 L759.80 609.15 L760.30 608.60 L760.60 608.50 L760.80 608.55 L761.30 609.05 L761.80 609.98 L762.30 611.19 L762.80 612.55 L763.30 613.91 L763.80 615.13 L764.30 616.06 L764.40 616.20 L764.80 616.68 L765.30 617.18 L765.80 617.60 L766.30 617.96 L766.80 618.30 L767.30 618.64 L767.80 619.03 L768.30 619.47 L768.80 620.02 L769.30 620.69 L769.50 621.00 L769.80 621.65 L770.30 623.37 L770.80 625.64 L771.30 628.17 L771.80 630.69 L772.30 632.92 L772.60 634.00 L772.80 634.66 L773.30 636.39 L773.80 638.13 L774.30 639.70 L774.80 640.93 L775.30 641.67 L775.60 641.80 L775.80 641.80 L776.30 641.75 L776.80 641.66 L777.30 641.52 L777.80 641.35 L778.30 641.14 L778.80 640.91 L779.30 640.65 L779.80 640.37 L780.30 640.07 L780.80 639.76 L781.30 639.45 L781.80 639.13 L782.00 639.00 L782.30 638.78 L782.80 638.29 L783.30 637.67 L783.80 636.97 L784.30 636.21 L784.80 635.43 L785.30 634.67 L785.80 633.95 L786.30 633.31 L786.80 632.79 L787.30 632.41 L787.80 632.22 L788.00 632.20 L788.30 632.25 L788.80 632.57 L789.30 633.12 L789.80 633.89 L790.30 634.83 L790.80 635.90 L791.30 637.07 L791.80 638.30 L792.30 639.55 L792.80 640.79 L793.30 641.97 L793.80 643.07 L794.30 644.03 L794.80 644.84 L795.30 645.44 L795.80 645.81 L796.20 645.90 L796.30 645.90 L796.80 645.88 L797.30 645.83 L797.80 645.75 L798.30 645.65 L798.80 645.53 L799.30 645.39 L799.80 645.24 L800.30 645.08 L800.80 644.91 L801.30 644.73 L801.80 644.55 L802.30 644.37 L802.80 644.20 L803.30 644.02 L803.80 643.86 L804.00 643.80 L804.30 643.71 L804.80 643.56 L805.30 643.42 L805.80 643.27 L806.30 643.13 L806.80 642.98 L807.30 642.83 L807.80 642.67 L808.30 642.51 L808.80 642.34 L809.30 642.17 L809.80 641.98 L810.30 641.78 L810.80 641.57 L811.30 641.34 L811.80 641.10 L812.00 641.00 L812.30 640.82 L812.80 640.45 L813.30 639.98 L813.80 639.43 L814.30 638.83 L814.80 638.19 L815.30 637.53 L815.80 636.87 L816.30 636.22 L816.80 635.61 L817.30 635.04 L817.80 634.55 L818.30 634.14 L818.80 633.83 L819.30 633.65 L819.70 633.60 L819.80 633.60 L820.30 633.76 L820.80 634.11 L821.30 634.61 L821.80 635.22 L822.30 635.89 L822.80 636.57 L823.30 637.23 L823.80 637.81 L824.30 638.29 L824.60 638.50 L824.80 638.62 L825.30 638.92 L825.80 639.22 L826.30 639.52 L826.80 639.80 L827.30 640.07 L827.80 640.31 L828.30 640.53 L828.80 640.73 L829.30 640.88 L829.80 641.00 L830.30 641.07 L830.80 641.10 L831.30 641.00 L831.80 640.72 L832.30 640.28 L832.80 639.71 L833.30 639.04 L833.80 638.30 L834.30 637.51 L834.80 636.71 L835.30 635.91 L835.80 635.15 L836.30 634.45 L836.80 633.84 L837.30 633.34 L837.80 632.99 L838.30 632.82 L838.50 632.80 L838.80 632.83 L839.30 632.99 L839.80 633.28 L840.30 633.66 L840.80 634.11 L841.30 634.60 L841.80 635.10 L842.30 635.59 L842.80 636.04 L843.30 636.42 L843.80 636.71 L844.30 636.87 L844.60 636.90 L844.80 636.90 L845.30 636.89 L845.80 636.87 L846.30 636.84 L846.80 636.80 L847.30 636.76 L847.80 636.72 L848.30 636.68 L848.80 636.64 L849.30 636.60 L849.80 636.56 L850.30 636.53 L850.80 636.51 L851.30 636.50 L851.50 636.50 L851.80 636.58 L852.30 636.99 L852.80 637.70 L853.30 638.60 L853.80 639.59 L854.30 640.58 L854.80 641.48 L855.30 642.19 L855.40 642.30 L855.80 642.73 L856.30 643.29 L856.80 643.84 L857.30 644.35 L857.80 644.79 L858.30 645.13 L858.80 645.34 L859.20 645.40 L859.30 645.39 L859.80 645.21 L860.20 645.00 L860.30 644.95 L860.80 644.67 L861.20 644.37 L861.30 644.28 L861.80 643.74 L862.20 643.16 L862.30 642.99 L862.80 641.87 L862.90 641.59 L863.30 640.23 L863.60 638.94 L863.80 637.92 L864.20 635.42 L864.30 634.70 L864.70 631.37 L864.80 630.43 L865.20 626.21 L865.30 625.06 L865.60 621.33 L865.80 618.68 L866.00 615.92 L866.30 611.64 L866.40 610.21 L866.80 604.55 L866.80 604.55 L867.20 599.46 L867.30 598.34 L867.50 596.37 L867.80 594.17 L867.85 593.95 L868.20 593.10 L868.30 593.22 L868.55 594.16 L868.80 596.11 L868.90 597.12 L869.20 600.82 L869.30 602.21 L869.60 606.72 L869.80 609.85 L870.00 613.00 L870.30 617.61 L870.40 619.07 L870.80 624.54 L870.80 624.54 L871.20 629.19 L871.30 630.21 L871.70 633.77 L871.80 634.52 L872.20 637.07 L872.30 637.59 L872.80 639.68 L872.80 639.68 L873.30 641.04 L873.50 641.44 L873.80 641.92 L874.20 642.41 L874.30 642.50 L874.80 642.91 L875.20 643.15 L875.30 643.21 L875.80 643.43 L876.20 643.59 L876.30 643.62 L876.80 643.77 L876.90 643.80 L877.30 643.91 L877.80 644.04 L878.30 644.15 L878.80 644.26 L879.30 644.37 L879.80 644.48 L880.30 644.59 L880.80 644.70 L881.30 644.83 L881.80 644.96 L882.30 645.12 L882.80 645.29 L883.10 645.40 L883.30 645.49 L883.80 645.79 L884.30 646.20 L884.80 646.68 L885.30 647.20 L885.80 647.76 L886.30 648.31 L886.80 648.85 L887.30 649.33 L887.80 649.74 L888.30 650.06 L888.80 650.25 L889.20 650.30 L889.30 650.30 L889.80 650.27 L890.30 650.21 L890.80 650.12 L891.30 649.99 L891.80 649.85 L892.30 649.69 L892.80 649.51 L893.30 649.32 L893.80 649.12 L894.30 648.93 L894.80 648.73 L895.30 648.54 L895.40 648.50 L895.80 648.33 L896.30 648.08 L896.80 647.78 L897.30 647.45 L897.80 647.11 L898.30 646.77 L898.80 646.44 L899.30 646.13 L899.80 645.86 L900.30 645.64 L900.80 645.49 L901.30 645.41 L901.50 645.40 L901.80 645.41 L902.30 645.50 L902.80 645.64 L903.30 645.84 L903.80 646.09"/>
<path stroke="#000" d="M122.80 681.58 L123.00 681.60 L123.30 681.62 L123.80 681.66 L124.30 681.69 L124.80 681.72 L125.30 681.75 L125.80 681.77 L126.30 681.79 L126.80 681.81 L127.30 681.83 L127.80 681.84 L128.30 681.85 L128.80 681.86 L129.30 681.87 L129.80 681.88 L130.30 681.89 L130.80 681.89 L131.30 681.89 L131.80 681.90 L132.30 681.90 L132.80 681.90 L133.30 681.90 L133.80 681.90 L134.30 681.90 L134.40 681.90 L134.80 681.89 L135.30 681.86 L135.80 681.81 L136.30 681.75 L136.80 681.67 L137.30 681.58 L137.80 681.48 L138.30 681.37 L138.80 681.26 L139.30 681.15 L139.80 681.04 L140.30 680.93 L140.80 680.84 L141.00 680.80 L141.30 680.75 L141.80 680.66 L142.30 680.58 L142.80 680.50 L143.30 680.43 L143.80 680.35 L144.30 680.27 L144.80 680.19 L145.30 680.11 L145.80 680.02 L146.30 679.93 L146.80 679.83 L147.30 679.72 L147.80 679.61 L148.30 679.48 L148.80 679.35 L149.30 679.20 L149.80 679.03 L150.30 678.83 L150.80 678.59 L151.30 678.33 L151.80 678.04 L152.30 677.72 L152.80 677.37 L153.30 677.00 L153.80 676.60 L154.30 676.19 L154.80 675.75 L155.30 675.29 L155.40 675.20 L155.80 674.79 L156.30 674.21 L156.80 673.55 L157.30 672.81 L157.80 672.01 L158.30 671.16 L158.80 670.26 L159.10 669.70 L159.30 669.29 L159.80 668.08 L160.30 666.70 L160.80 665.32 L161.30 664.09 L161.60 663.50 L161.80 663.14 L162.30 662.21 L162.80 661.33 L163.30 660.62 L163.80 660.18 L164.10 660.10 L164.30 660.14 L164.80 660.55 L165.30 661.28 L165.80 662.19 L166.30 663.14 L166.50 663.50 L166.80 664.09 L167.30 665.30 L167.80 666.62 L168.30 667.86 L168.80 668.83 L169.00 669.10 L169.30 669.43 L169.80 669.90 L170.30 670.27 L170.80 670.55 L170.90 670.60 L171.30 670.76 L171.80 670.95 L172.30 671.12 L172.80 671.26 L173.30 671.40 L173.80 671.52 L174.30 671.63 L174.80 671.74 L175.30 671.84 L175.80 671.94 L176.30 672.04 L176.80 672.15 L177.00 672.20 L177.30 672.27 L177.80 672.40 L178.30 672.54 L178.80 672.68 L179.30 672.82 L179.80 672.95 L180.30 673.08 L180.80 673.20 L181.30 673.30 L181.80 673.39 L182.30 673.45 L182.80 673.49 L183.20 673.50 L183.30 673.50 L183.80 673.49 L184.30 673.48 L184.80 673.47 L185.30 673.45 L185.80 673.42 L186.30 673.40 L186.80 673.38 L187.30 673.35 L187.80 673.33 L188.30 673.32 L188.80 673.31 L189.30 673.30 L189.40 673.30 L189.80 673.31 L190.30 673.34 L190.80 673.39 L191.30 673.46 L191.80 673.55 L192.30 673.65 L192.80 673.76 L193.30 673.88 L193.80 674.01 L194.30 674.14 L194.80 674.27 L195.30 674.39 L195.80 674.51 L196.30 674.63 L196.80 674.73 L197.30 674.82 L197.80 674.89 L198.30 674.95 L198.80 674.99 L199.30 675.00 L199.80 674.99 L200.30 674.95 L200.80 674.90 L201.30 674.83 L201.80 674.74 L202.30 674.63 L202.80 674.51 L203.30 674.38 L203.80 674.24 L204.30 674.10 L204.80 673.95 L205.30 673.79 L205.80 673.63 L206.30 673.48 L206.80 673.32 L207.30 673.17 L207.80 673.03 L208.30 672.89 L208.80 672.76 L209.30 672.65 L209.80 672.55 L210.30 672.46 L210.80 672.39 L211.30 672.34 L211.80 672.31 L212.20 672.30 L212.30 672.30 L212.80 672.32 L213.30 672.36 L213.80 672.42 L214.30 672.49 L214.80 672.58 L215.30 672.68 L215.80 672.79 L216.30 672.90 L216.80 673.02 L217.30 673.13 L217.80 673.24 L218.30 673.33 L218.80 673.42 L219.30 673.50 L219.80 673.55 L220.30 673.59 L220.80 673.60 L221.30 673.60 L221.80 673.59 L222.30 673.58 L222.80 673.56 L223.30 673.54 L223.80 673.51 L224.30 673.48 L224.80 673.45 L225.30 673.41 L225.80 673.37 L226.30 673.33 L226.80 673.28 L227.30 673.23 L227.80 673.18 L228.30 673.12 L228.80 673.06 L229.30 673.00 L229.80 672.94 L230.30 672.87 L230.80 672.81 L231.30 672.74 L231.80 672.67 L232.30 672.60 L232.80 672.53 L233.30 672.44 L233.80 672.36 L234.30 672.26 L234.80 672.15 L235.30 672.03 L235.80 671.90 L236.30 671.76 L236.80 671.61 L237.30 671.44 L237.80 671.26 L238.30 671.06 L238.80 670.85 L239.30 670.62 L239.80 670.37 L240.30 670.11 L240.80 669.82 L241.00 669.70 L241.30 669.48 L241.80 668.96 L242.30 668.27 L242.80 667.46 L243.30 666.56 L243.70 665.80 L243.80 665.60 L244.30 664.51 L244.80 663.22 L245.30 661.77 L245.80 660.16 L246.30 658.40 L246.80 656.46 L247.30 654.25 L247.80 651.67 L248.30 648.66 L248.40 648.00 L248.80 644.82 L249.30 639.80 L249.80 634.24 L250.00 632.00 L250.30 628.61 L250.80 622.48 L251.00 619.78 L251.30 615.31 L251.70 608.60 L251.80 606.80 L252.30 596.88 L252.80 585.44 L253.30 572.47 L253.70 561.13 L253.80 558.19 L254.10 549.22 L254.30 543.20 L254.50 537.24 L254.80 528.60 L254.90 525.89 L255.30 516.08 L255.60 510.33 L255.80 507.41 L255.95 505.92 L256.30 504.40 L256.65 509.41 L256.80 514.11 L257.00 522.92 L257.30 538.64 L257.70 561.40 L257.80 566.92 L258.10 582.85 L258.30 592.49 L258.50 601.32 L258.80 613.01 L258.90 616.50 L259.30 628.72 L259.80 640.52 L260.20 648.00 L260.30 649.62 L260.80 656.74 L261.00 658.40 L261.30 659.91 L261.80 661.76 L262.30 663.05 L262.60 663.70 L262.80 664.12 L263.30 665.16 L263.80 666.09 L264.30 666.82 L264.80 667.24 L265.00 667.30 L265.30 667.34 L265.80 667.40 L266.30 667.46 L266.80 667.51 L267.30 667.56 L267.80 667.60 L268.30 667.64 L268.80 667.67 L269.30 667.70 L269.80 667.73 L270.30 667.75 L270.80 667.76 L271.30 667.78 L271.80 667.79 L272.30 667.79 L272.80 667.80 L273.30 667.80 L273.80 667.77 L274.30 667.69 L274.80 667.56 L275.30 667.39 L275.80 667.17 L276.30 666.92 L276.80 666.64 L277.30 666.33 L277.80 666.00 L278.30 665.66 L278.80 665.29 L279.30 664.92 L279.80 664.55 L280.00 664.40 L280.30 664.14 L280.80 663.54 L281.30 662.79 L281.80 661.93 L282.30 661.00 L282.80 660.06 L283.30 659.15 L283.80 658.31 L284.30 657.59 L284.80 657.03 L285.30 656.69 L285.70 656.60 L285.80 656.61 L286.30 656.94 L286.80 657.63 L287.30 658.52 L287.80 659.45 L288.30 660.28 L288.80 660.84 L289.20 661.00 L289.30 660.99 L289.80 660.58 L290.30 659.70 L290.80 658.50 L291.30 657.14 L291.80 655.76 L292.30 654.52 L292.80 653.57 L293.30 653.05 L293.50 653.00 L293.80 653.13 L294.30 653.83 L294.80 654.99 L295.30 656.40 L295.80 657.89 L296.30 659.27 L296.80 660.35 L297.30 660.94 L297.50 661.00 L297.80 660.89 L298.30 660.23 L298.80 659.07 L299.30 657.52 L299.80 655.66 L300.30 653.59 L300.80 651.42 L301.30 649.24 L301.80 647.14 L302.30 645.23 L302.80 643.61 L303.30 642.37 L303.80 641.60 L304.20 641.40 L304.30 641.43 L304.80 642.44 L305.30 644.55 L305.80 647.31 L306.30 650.29 L306.80 653.05 L307.30 655.16 L307.80 656.17 L307.90 656.20 L308.30 655.20 L308.80 651.98 L309.30 648.00 L309.50 646.54 L309.80 644.40 L310.30 640.48 L310.50 638.82 L310.80 636.21 L311.30 631.53 L311.50 629.56 L311.80 626.48 L312.20 622.13 L312.30 621.01 L312.80 615.17 L312.90 613.96 L313.30 609.02 L313.50 606.50 L313.80 602.67 L314.00 600.10 L314.30 596.25 L314.50 593.71 L314.80 589.97 L314.90 588.76 L315.30 584.10 L315.70 579.87 L315.80 578.90 L316.10 576.24 L316.30 574.70 L316.50 573.36 L316.80 571.77 L317.15 570.60 L317.30 570.36 L317.50 570.20 L317.80 570.94 L317.85 571.14 L318.20 573.91 L318.30 574.99 L318.50 577.61 L318.80 582.40 L318.90 584.17 L319.30 592.15 L319.70 601.01 L319.80 603.29 L320.10 610.21 L320.30 614.79 L320.50 619.26 L320.80 625.70 L321.00 629.74 L321.30 635.39 L321.50 638.81 L321.80 643.48 L322.10 647.49 L322.30 649.92 L322.80 654.90 L322.90 655.40 L323.30 656.78 L323.80 658.13 L324.30 658.99 L324.80 659.30 L325.30 659.04 L325.80 658.32 L326.30 657.28 L326.80 656.03 L327.30 654.70 L327.80 653.40 L328.30 652.10 L328.80 650.66 L329.30 649.07 L329.80 647.31 L330.30 645.38 L330.70 643.70 L330.80 643.26 L331.30 640.92 L331.80 638.27 L332.30 635.17 L332.80 631.52 L333.10 629.00 L333.30 626.99 L333.80 620.33 L334.30 612.55 L334.40 611.00 L334.80 604.42 L335.10 599.10 L335.30 595.42 L335.80 585.67 L335.80 585.67 L336.30 575.23 L336.40 573.08 L336.80 564.27 L336.90 562.03 L337.30 553.01 L337.40 550.76 L337.80 541.83 L337.80 541.83 L338.20 533.26 L338.30 531.22 L338.60 525.36 L338.80 521.75 L339.00 518.45 L339.30 514.13 L339.40 512.89 L339.70 509.79 L339.80 508.98 L340.05 507.48 L340.30 506.79 L340.40 506.70 L340.75 510.46 L340.80 511.40 L341.10 520.83 L341.30 528.91 L341.40 533.36 L341.80 552.53 L341.80 552.53 L342.20 571.93 L342.30 576.56 L342.60 589.79 L342.80 597.83 L343.00 605.22 L343.30 615.03 L343.40 617.92 L343.80 628.00 L343.90 630.12 L344.30 637.34 L344.40 638.82 L344.80 643.80 L345.00 645.77 L345.30 648.21 L345.70 650.76 L345.80 651.28 L346.30 653.46 L346.40 653.81 L346.80 655.27 L347.30 656.30 L347.80 656.30 L348.30 656.30 L348.80 656.30 L349.30 656.30 L349.80 656.30 L350.30 656.30 L350.80 656.30 L351.30 656.30 L351.80 656.30 L352.30 656.30 L352.80 656.30 L353.10 656.30 L353.30 656.30 L353.80 656.27 L354.30 656.20 L354.80 656.11 L355.30 655.98 L355.80 655.83 L356.30 655.65 L356.80 655.44 L357.30 655.22 L357.80 654.96 L358.30 654.69 L358.80 654.40 L359.30 653.92 L359.80 653.11 L360.30 652.01 L360.80 650.66 L361.30 649.09 L361.80 647.35 L362.30 645.47 L362.80 643.50 L363.30 641.47 L363.80 639.42 L364.30 637.39 L364.60 636.20 L364.80 635.37 L365.30 632.88 L365.80 629.94 L366.30 626.66 L366.80 623.18 L367.30 619.62 L367.80 616.12 L368.30 612.80 L368.80 609.80 L369.30 607.24 L369.80 605.25 L370.30 603.96 L370.80 603.50 L371.30 604.46 L371.80 606.96 L372.30 610.46 L372.80 614.40 L373.30 618.23 L373.80 621.39 L374.30 623.34 L374.60 623.70 L374.80 623.57 L375.30 622.32 L375.80 620.16 L376.30 617.63 L376.80 615.26 L377.30 613.58 L377.70 613.10 L377.80 613.19 L378.30 615.85 L378.80 620.76 L379.30 625.97 L379.50 627.70 L379.80 630.22 L380.30 634.97 L380.80 639.84 L381.30 644.15 L381.80 647.22 L382.30 648.40 L382.80 648.31 L383.30 648.05 L383.80 647.67 L384.30 647.17 L384.80 646.60 L385.20 646.10 L385.30 645.96 L385.80 645.01 L386.30 643.67 L386.80 642.02 L387.30 640.15 L387.80 638.14 L388.10 636.90 L388.30 636.04 L388.80 633.62 L389.30 630.87 L389.80 627.82 L390.30 624.53 L390.80 621.04 L391.00 619.60 L391.30 617.28 L391.80 612.88 L392.30 608.12 L392.80 603.32 L393.30 598.80 L393.80 594.34 L394.30 589.91 L394.80 586.16 L395.00 585.00 L395.30 583.40 L395.80 580.83 L396.30 578.88 L396.80 578.10 L397.30 578.96 L397.80 581.10 L398.30 583.86 L398.50 585.00 L398.80 587.39 L399.30 593.26 L399.80 598.95 L400.30 601.50 L400.80 600.59 L401.30 598.15 L401.80 594.62 L402.00 593.00 L402.30 589.00 L402.80 578.75 L402.90 576.68 L403.30 568.22 L403.80 556.45 L403.90 553.93 L404.30 543.15 L404.80 528.18 L404.90 525.01 L405.30 511.42 L405.60 500.35 L405.80 492.58 L406.30 471.65 L406.30 471.65 L406.80 448.64 L406.90 443.83 L407.30 423.79 L407.40 418.64 L407.80 397.51 L407.90 392.17 L408.30 370.68 L408.30 370.68 L408.70 349.60 L408.80 344.50 L409.10 329.76 L409.30 320.60 L409.50 312.14 L409.80 300.96 L409.90 297.73 L410.20 289.62 L410.30 287.51 L410.55 283.56 L410.80 281.73 L410.90 281.50 L411.25 284.46 L411.30 285.22 L411.60 293.22 L411.80 300.65 L411.90 305.03 L412.30 326.25 L412.30 326.25 L412.70 352.60 L412.80 359.79 L413.10 382.66 L413.30 398.60 L413.50 414.91 L413.80 439.68 L413.90 447.88 L414.30 480.27 L414.40 488.09 L414.80 518.19 L414.90 525.24 L415.30 551.97 L415.50 563.82 L415.80 582.17 L416.30 608.04 L416.50 611.20 L416.80 611.11 L417.30 610.58 L417.80 609.67 L418.30 608.45 L418.80 607.00 L419.30 605.43 L419.80 603.80 L420.30 602.20 L420.80 600.73 L421.30 599.45 L421.80 598.47 L422.30 597.86 L422.70 597.70 L422.80 597.72 L423.30 598.47 L423.80 600.12 L424.30 602.46 L424.80 605.26 L425.30 608.33 L425.80 611.43 L426.30 614.37 L426.80 616.92 L427.30 618.86 L427.80 620.00 L428.10 620.20 L428.30 620.06 L428.80 618.77 L429.30 616.90 L429.50 616.20 L429.80 615.21 L430.30 613.46 L430.80 611.59 L431.30 609.60 L431.80 607.47 L432.30 605.19 L432.50 604.24 L432.80 602.73 L433.30 600.00 L433.80 596.99 L434.30 593.71 L434.50 592.33 L434.80 590.16 L435.30 586.23 L435.80 581.93 L436.30 577.27 L436.50 575.30 L436.80 572.19 L437.30 566.49 L437.80 560.20 L438.00 557.52 L438.30 553.29 L438.80 545.59 L439.30 537.16 L439.50 533.60 L439.80 527.94 L440.30 517.60 L440.50 513.19 L440.80 506.25 L441.30 493.77 L441.50 488.52 L441.80 480.25 L442.20 468.51 L442.30 465.48 L442.80 449.61 L442.90 446.34 L443.30 432.82 L443.50 425.90 L443.80 415.34 L444.00 408.23 L444.30 397.55 L444.50 390.48 L444.80 380.03 L444.90 376.62 L445.30 363.50 L445.70 351.55 L445.80 348.82 L446.10 341.25 L446.30 336.87 L446.50 333.04 L446.80 328.49 L447.15 325.13 L447.30 324.45 L447.50 324.00 L447.80 326.47 L447.85 327.13 L448.20 336.27 L448.30 339.82 L448.50 348.36 L448.80 363.72 L448.90 369.34 L449.30 394.05 L449.70 420.39 L449.80 426.97 L450.10 446.41 L450.30 458.81 L450.50 470.53 L450.80 486.71 L451.00 496.42 L451.30 509.33 L451.50 516.71 L451.80 526.21 L452.10 533.86 L452.30 537.97 L452.80 545.77 L453.30 550.94 L453.70 552.80 L453.80 552.77 L454.30 551.81 L454.80 549.68 L455.30 546.64 L455.80 542.94 L456.30 538.84 L456.80 534.59 L457.30 530.45 L457.80 526.67 L458.30 523.52 L458.80 521.24 L459.10 520.40 L459.30 519.99 L459.80 519.00 L460.30 518.05 L460.80 517.15 L461.30 516.31 L461.80 515.53 L462.30 514.82 L462.80 514.19 L463.30 513.64 L463.80 513.17 L464.30 512.80 L464.80 512.53 L465.30 512.36 L465.80 512.30 L466.30 512.85 L466.80 514.34 L467.30 516.53 L467.80 519.18 L468.30 522.04 L468.80 524.88 L469.30 527.45 L469.80 529.52 L470.30 530.84 L470.70 531.20 L470.80 531.19 L471.30 530.74 L471.80 529.75 L472.30 528.32 L472.80 526.56 L473.30 524.59 L473.80 522.50 L474.30 520.41 L474.80 518.44 L475.30 516.68 L475.80 515.25 L476.30 514.26 L476.80 513.81 L476.90 513.80 L477.30 514.16 L477.80 515.53 L478.30 517.71 L478.80 520.49 L479.20 523.00 L479.30 523.73 L479.80 529.52 L480.30 537.59 L480.80 546.20 L481.30 555.60 L481.80 565.58 L482.00 569.20 L482.30 574.53 L482.80 583.39 L483.30 590.44 L483.50 592.30 L483.80 594.46 L484.30 597.55 L484.80 599.88 L485.30 601.33 L485.40 601.50 L485.80 602.06 L486.30 602.64 L486.80 603.00 L487.20 603.10 L487.30 603.09 L487.80 602.80 L488.30 602.15 L488.80 601.25 L489.30 600.16 L489.80 598.98 L490.00 598.50 L490.30 597.68 L490.80 595.88 L491.30 593.69 L491.80 591.23 L492.30 588.65 L492.80 586.08 L493.10 584.60 L493.30 583.65 L493.80 581.14 L493.90 580.58 L494.30 578.18 L494.80 574.88 L495.30 571.19 L495.80 567.01 L495.90 566.10 L496.30 562.17 L496.80 556.49 L497.30 550.03 L497.80 542.85 L497.90 541.34 L498.30 534.71 L498.80 525.14 L499.30 514.40 L499.40 512.13 L499.80 502.39 L500.30 488.73 L500.80 473.78 L500.90 470.66 L501.30 457.37 L501.80 439.07 L501.90 435.26 L502.30 419.31 L502.80 398.00 L502.90 393.61 L503.30 375.37 L503.60 361.13 L503.80 351.45 L504.30 326.56 L504.30 326.56 L504.80 301.09 L504.90 295.98 L505.30 275.53 L505.40 270.47 L505.80 250.50 L505.90 245.62 L506.30 226.74 L506.30 226.74 L506.70 209.23 L506.80 205.14 L507.10 193.59 L507.30 186.62 L507.50 180.31 L507.80 172.18 L507.90 169.87 L508.20 164.13 L508.30 162.66 L508.55 159.92 L508.80 158.66 L508.90 158.50 L509.25 161.31 L509.30 162.04 L509.60 169.66 L509.80 176.78 L509.90 180.98 L510.30 201.51 L510.30 201.51 L510.70 227.38 L510.80 234.51 L511.10 257.44 L511.30 273.65 L511.50 290.45 L511.80 316.38 L511.90 325.12 L512.30 360.24 L512.40 368.91 L512.80 403.03 L512.90 411.25 L513.30 442.99 L513.50 457.81 L513.80 478.71 L514.20 503.96 L514.30 509.70 L514.80 535.77 L514.90 540.19 L515.30 556.33 L515.80 572.96 L515.90 575.66 L516.30 585.31 L516.80 594.58 L516.90 595.93 L517.30 600.62 L517.80 605.39 L518.30 608.61 L518.40 609.03 L518.80 610.43 L519.30 611.77 L519.80 612.64 L519.90 612.76 L520.30 613.16 L520.80 613.40 L521.30 613.17 L521.80 612.56 L522.30 611.69 L522.80 610.70 L523.30 609.71 L523.80 608.84 L524.30 608.23 L524.80 608.00 L525.30 608.00 L525.80 608.00 L526.30 608.00 L526.80 608.00 L527.30 608.00 L527.80 608.00 L528.30 608.00 L528.80 607.03 L529.30 604.71 L529.80 601.93 L530.00 600.90 L530.30 599.35 L530.80 596.50 L531.30 593.33 L531.50 591.98 L531.80 589.82 L532.30 585.81 L532.50 584.08 L532.80 581.33 L533.30 576.29 L533.50 574.15 L533.80 570.72 L534.20 565.76 L534.30 564.47 L534.80 557.56 L534.90 556.11 L535.30 550.03 L535.50 546.85 L535.80 541.93 L536.00 538.56 L536.30 533.40 L536.50 529.93 L536.80 524.72 L536.90 522.99 L537.30 516.24 L537.70 509.94 L537.80 508.47 L538.10 504.38 L538.30 501.98 L538.50 499.86 L538.80 497.33 L539.15 495.44 L539.30 495.05 L539.50 494.80 L539.80 496.26 L539.85 496.65 L540.20 501.94 L540.30 503.95 L540.50 508.69 L540.80 516.86 L540.90 519.73 L541.30 531.62 L541.70 542.90 L541.80 545.48 L542.10 552.58 L542.30 556.66 L542.50 560.17 L542.80 564.50 L543.00 566.72 L543.30 569.34 L543.70 571.60 L543.80 571.87 L544.30 572.87 L544.80 573.47 L545.30 573.92 L545.80 574.50 L546.30 575.44 L546.40 575.70 L546.80 578.22 L547.30 584.45 L547.80 592.50 L548.30 600.62 L548.80 607.06 L549.10 609.40 L549.30 610.46 L549.80 612.95 L550.30 614.91 L550.80 615.99 L551.00 616.10 L551.30 615.92 L551.80 614.92 L552.30 613.20 L552.80 610.95 L553.30 608.37 L553.80 605.66 L554.30 602.99 L554.80 600.58 L555.30 598.60 L555.80 596.78 L556.30 594.82 L556.80 592.91 L557.30 591.22 L557.80 589.95 L558.30 589.27 L558.50 589.20 L558.80 589.64 L559.30 592.05 L559.80 596.01 L560.30 600.90 L560.80 606.08 L561.30 610.93 L561.80 614.80 L562.30 618.18 L562.80 621.77 L563.30 625.31 L563.80 628.54 L564.30 631.17 L564.80 632.95 L565.30 633.60 L565.80 633.46 L566.30 633.05 L566.80 632.42 L567.30 631.61 L567.80 630.64 L568.30 629.56 L568.80 628.41 L569.30 627.21 L569.80 626.02 L570.30 624.86 L570.60 624.20 L570.80 623.76 L571.30 622.57 L571.80 621.29 L572.30 619.92 L572.80 618.49 L573.30 617.03 L573.80 615.55 L574.30 614.08 L574.80 612.63 L575.30 611.23 L575.80 609.91 L576.00 609.40 L576.30 608.61 L576.80 607.14 L577.30 605.60 L577.80 604.12 L578.30 602.83 L578.80 601.86 L579.30 601.35 L579.50 601.30 L579.80 601.49 L580.30 602.53 L580.80 604.23 L581.30 606.27 L581.80 608.38 L582.30 610.25 L582.80 611.59 L583.30 612.10 L583.80 608.51 L584.30 600.98 L584.80 594.40 L585.30 590.40 L585.80 587.06 L586.30 583.94 L586.80 580.60 L587.10 578.30 L587.30 576.64 L587.80 572.26 L588.30 567.57 L588.80 562.60 L589.30 557.38 L589.80 551.94 L590.30 546.30 L590.80 540.27 L591.30 533.56 L591.80 525.99 L592.30 517.58 L592.80 508.29 L593.30 498.19 L593.80 487.28 L594.00 482.70 L594.30 475.64 L594.70 465.90 L594.80 463.42 L595.30 450.77 L595.80 437.97 L596.30 425.34 L596.70 415.63 L596.80 413.29 L597.10 406.54 L597.30 402.31 L597.50 398.35 L597.80 392.95 L597.90 391.33 L598.30 385.78 L598.60 382.72 L598.80 381.22 L598.95 380.46 L599.30 379.70 L599.65 381.31 L599.80 382.91 L600.00 386.09 L600.30 392.55 L600.70 404.21 L600.80 407.58 L601.10 418.81 L601.30 426.99 L601.50 435.64 L601.80 449.27 L601.90 453.92 L602.30 472.88 L602.80 496.45 L603.30 518.77 L603.80 538.93 L604.00 546.30 L604.30 557.00 L604.80 573.19 L605.00 578.30 L605.30 584.56 L605.80 593.15 L606.30 600.80 L606.80 609.39 L607.30 616.33 L607.50 617.50 L607.80 618.25 L608.30 619.34 L608.80 620.25 L609.30 621.00 L609.80 621.58 L610.30 622.01 L610.80 622.30 L611.30 622.46 L611.70 622.50 L611.80 622.50 L612.30 622.35 L612.80 622.01 L613.30 621.51 L613.80 620.87 L614.30 620.13 L614.80 619.30 L615.30 618.41 L615.80 617.50 L616.30 616.36 L616.80 614.83 L617.30 613.01 L617.80 610.97 L618.30 608.81 L618.80 606.61 L619.30 604.46 L619.80 602.45 L620.00 601.70 L620.30 600.54 L620.80 598.35 L621.30 596.02 L621.80 593.71 L622.30 591.61 L622.80 589.89 L623.30 588.73 L623.80 588.30 L624.30 589.66 L624.80 593.16 L625.30 597.88 L625.80 602.93 L626.30 607.42 L626.70 610.00 L626.80 610.48 L627.30 612.67 L627.80 614.57 L628.30 616.28 L628.80 617.90 L629.20 619.20 L629.30 619.53 L629.80 621.05 L630.30 622.46 L630.80 623.86 L631.30 625.36 L631.70 626.70 L631.80 627.08 L632.30 629.49 L632.80 632.35 L633.30 635.04 L633.80 636.95 L634.20 637.50 L634.30 637.49 L634.80 637.14 L635.30 636.39 L635.80 635.36 L636.30 634.16 L636.80 632.90 L637.30 631.71 L637.80 630.71 L638.30 630.00 L638.80 629.54 L639.30 629.16 L639.80 628.83 L640.30 628.52 L640.80 628.21 L641.30 627.84 L641.70 627.50 L641.80 627.41 L642.30 626.90 L642.80 626.33 L643.30 625.71 L643.80 625.05 L644.30 624.34 L644.80 623.60 L645.00 623.30 L645.30 622.82 L645.80 621.94 L646.30 620.97 L646.80 619.94 L647.30 618.87 L647.80 617.78 L648.30 616.69 L648.80 615.63 L649.30 614.61 L649.80 613.66 L650.00 613.30 L650.30 612.75 L650.80 611.75 L651.30 610.70 L651.80 609.69 L652.30 608.79 L652.80 608.07 L653.30 607.62 L653.70 607.50 L653.80 607.52 L654.30 608.12 L654.80 609.42 L655.30 611.18 L655.80 613.18 L656.30 615.21 L656.70 616.70 L656.80 617.05 L657.30 618.93 L657.80 620.96 L658.30 623.08 L658.80 625.21 L659.30 627.30 L659.80 629.26 L660.00 630.00 L660.30 631.13 L660.80 633.13 L661.30 635.16 L661.80 637.09 L662.30 638.77 L662.80 640.05 L663.30 640.80 L663.80 641.19 L664.30 641.50 L664.80 641.75 L665.30 641.96 L665.80 642.15 L666.30 642.33 L666.70 642.50 L666.80 642.54 L667.30 642.75 L667.80 642.94 L668.30 643.12 L668.80 643.30 L669.30 643.46 L669.80 643.63 L670.30 643.80 L670.80 643.97 L671.30 644.15 L671.80 644.34 L672.30 644.54 L672.80 644.76 L673.30 645.00 L673.80 645.29 L674.30 645.64 L674.80 646.05 L675.30 646.49 L675.80 646.96 L676.30 647.44 L676.80 647.92 L677.30 648.38 L677.80 648.81 L678.30 649.19 L678.80 649.52 L679.30 649.78 L679.80 649.96 L680.00 650.00 L680.30 650.05 L680.80 650.14 L681.30 650.22 L681.80 650.29 L682.30 650.36 L682.80 650.43 L683.30 650.49 L683.80 650.55 L684.30 650.60 L684.80 650.64 L685.30 650.68 L685.80 650.72 L686.30 650.75 L686.80 650.77 L687.30 650.79 L687.80 650.80 L688.30 650.80 L688.80 650.75 L689.30 650.60 L689.80 650.37 L690.30 650.07 L690.80 649.72 L691.30 649.34 L691.80 648.93 L692.30 648.51 L692.80 648.09 L693.30 647.70 L693.80 647.34 L694.30 647.03 L694.80 646.78 L695.00 646.70 L695.30 646.60 L695.80 646.45 L696.30 646.31 L696.80 646.20 L697.30 646.10 L697.80 646.00 L698.30 645.91 L698.80 645.81 L699.30 645.71 L699.80 645.60 L700.30 645.47 L700.80 645.33 L701.30 645.16 L701.70 645.00 L701.80 644.95 L702.30 644.62 L702.80 644.13 L703.30 643.51 L703.80 642.80 L704.30 642.03 L704.80 641.23 L705.30 640.43 L705.80 639.67 L706.30 638.97 L706.80 638.38 L707.30 637.91 L707.80 637.61 L708.30 637.50 L708.80 637.51 L709.30 637.55 L709.80 637.60 L710.30 637.67 L710.80 637.75 L711.30 637.84 L711.80 637.93 L712.30 638.01 L712.80 638.10 L713.30 638.17 L713.80 638.23 L714.30 638.28 L714.80 638.30 L715.00 638.30 L715.30 638.29 L715.80 638.25 L716.30 638.17 L716.80 638.06 L717.30 637.92 L717.80 637.77 L718.30 637.61 L718.80 637.45 L719.30 637.29 L719.80 637.13 L720.30 636.99 L720.80 636.87 L721.30 636.78 L721.80 636.72 L722.30 636.70 L722.80 636.74 L723.30 636.87 L723.80 637.06 L724.30 637.31 L724.80 637.61 L725.30 637.94 L725.80 638.30 L726.30 638.68 L726.80 639.05 L727.30 639.41 L727.80 639.76 L728.30 640.07 L728.80 640.34 L729.30 640.56 L729.80 640.72 L730.30 640.79 L730.50 640.80 L730.80 640.78 L731.30 640.64 L731.80 640.40 L732.30 640.07 L732.80 639.66 L733.30 639.19 L733.80 638.67 L734.30 638.13 L734.80 637.58 L735.30 637.02 L735.60 636.70 L735.80 636.47 L736.30 635.74 L736.80 634.84 L737.30 633.82 L737.80 632.76 L738.30 631.70 L738.80 630.70 L739.30 629.83 L739.80 629.13 L740.30 628.67 L740.80 628.50 L741.30 628.51 L741.80 628.54 L742.30 628.59 L742.80 628.66 L743.30 628.75 L743.80 628.85 L744.30 628.98 L744.80 629.12 L745.30 629.28 L745.80 629.46 L745.90 629.50 L746.30 629.95 L746.80 631.23 L747.30 633.05 L747.80 635.18 L748.30 637.37 L748.80 639.35 L749.30 640.88 L749.80 641.72 L750.00 641.80 L750.30 641.74 L750.80 641.41 L751.30 640.83 L751.80 640.04 L752.30 639.07 L752.80 637.99 L753.30 636.82 L753.80 635.61 L754.30 634.41 L754.80 633.25 L755.10 632.60 L755.30 632.16 L755.80 630.87 L756.30 629.37 L756.80 627.74 L757.30 626.04 L757.80 624.34 L758.30 622.70 L758.80 621.19 L759.30 619.88 L759.80 618.84 L760.30 618.13 L760.80 617.81 L760.90 617.80 L761.30 617.86 L761.80 618.06 L762.30 618.38 L762.80 618.76 L763.30 619.17 L763.80 619.58 L764.30 619.92 L764.80 620.18 L765.30 620.30 L765.40 620.30 L765.80 620.30 L766.30 620.30 L766.80 620.30 L767.30 620.30 L767.80 620.30 L768.30 620.30 L768.80 620.30 L769.30 620.30 L769.50 620.30 L769.80 620.58 L770.30 622.10 L770.80 624.57 L771.30 627.56 L771.80 630.62 L772.30 633.33 L772.60 634.60 L772.80 635.35 L773.30 637.32 L773.80 639.35 L774.30 641.33 L774.80 643.16 L775.30 644.73 L775.80 645.95 L776.30 646.70 L776.70 646.90 L776.80 646.90 L777.30 646.84 L777.80 646.69 L778.30 646.48 L778.80 646.20 L779.30 645.87 L779.80 645.49 L780.30 645.08 L780.80 644.64 L781.30 644.18 L781.80 643.72 L782.30 643.25 L782.80 642.80 L783.30 642.28 L783.80 641.62 L784.30 640.86 L784.80 640.02 L785.30 639.13 L785.80 638.20 L786.30 637.28 L786.80 636.38 L787.30 635.54 L787.80 634.77 L788.30 634.11 L788.80 633.58 L789.30 633.21 L789.80 633.02 L790.00 633.00 L790.30 633.13 L790.80 633.83 L791.30 635.03 L791.80 636.57 L792.30 638.29 L792.80 640.07 L793.30 641.73 L793.80 643.14 L794.10 643.80 L794.30 644.19 L794.80 645.21 L795.30 646.24 L795.80 647.23 L796.30 648.15 L796.80 648.93 L797.30 649.53 L797.80 649.90 L798.20 650.00 L798.30 650.00 L798.80 649.98 L799.30 649.92 L799.80 649.84 L800.30 649.74 L800.80 649.63 L801.30 649.49 L801.80 649.35 L802.30 649.20 L802.80 649.05 L803.30 648.90 L803.80 648.76 L804.30 648.63 L804.40 648.60 L804.80 648.50 L805.30 648.38 L805.80 648.27 L806.30 648.15 L806.80 648.04 L807.30 647.92 L807.80 647.79 L808.30 647.65 L808.80 647.51 L809.30 647.35 L809.80 647.17 L810.30 646.98 L810.50 646.90 L810.80 646.75 L811.30 646.42 L811.80 646.00 L812.30 645.49 L812.80 644.92 L813.30 644.29 L813.80 643.63 L814.30 642.94 L814.80 642.24 L815.30 641.54 L815.80 640.86 L816.30 640.21 L816.80 639.60 L817.30 639.06 L817.80 638.58 L818.30 638.20 L818.80 637.91 L819.30 637.74 L819.70 637.70 L819.80 637.71 L820.30 637.91 L820.80 638.37 L821.30 639.03 L821.80 639.82 L822.30 640.70 L822.80 641.60 L823.30 642.48 L823.80 643.27 L824.30 643.93 L824.80 644.39 L825.30 644.59 L825.40 644.60 L825.80 644.55 L826.30 644.39 L826.80 644.14 L827.30 643.85 L827.80 643.56 L828.30 643.31 L828.80 643.15 L829.20 643.10 L829.30 643.10 L829.80 643.21 L830.30 643.43 L830.80 643.74 L831.30 644.10 L831.80 644.47 L832.30 644.83 L832.80 645.12 L833.30 645.32 L833.80 645.40 L834.30 645.22 L834.80 644.73 L835.30 643.99 L835.80 643.05 L836.30 641.98 L836.80 640.83 L837.30 639.68 L837.80 638.57 L838.30 637.57 L838.80 636.74 L839.30 636.14 L839.80 635.83 L840.00 635.80 L840.30 635.89 L840.80 636.35 L841.30 637.12 L841.80 638.05 L842.30 639.01 L842.80 639.88 L843.30 640.52 L843.80 640.80 L844.30 640.86 L844.80 640.90 L845.30 640.93 L845.80 640.95 L846.30 640.97 L846.80 640.99 L847.30 641.02 L847.80 641.04 L848.30 641.08 L848.50 641.10 L848.80 641.13 L849.30 641.19 L849.80 641.25 L850.30 641.32 L850.80 641.41 L851.30 641.51 L851.80 641.62 L852.30 641.75 L852.80 641.90 L853.10 642.00 L853.30 642.08 L853.80 642.41 L854.30 642.89 L854.80 643.47 L855.30 644.11 L855.80 644.79 L856.30 645.46 L856.80 646.08 L856.90 646.20 L857.30 646.70 L857.80 647.43 L858.30 648.21 L858.80 648.98 L859.30 649.69 L859.80 650.27 L860.30 650.66 L860.80 650.80 L861.30 650.67 L861.80 650.31 L862.30 649.79 L862.80 649.15 L863.30 648.47 L863.80 647.80 L864.30 647.20 L864.60 646.90 L864.80 646.71 L865.30 646.20 L865.80 645.66 L866.30 645.11 L866.80 644.57 L867.30 644.09 L867.80 643.67 L868.30 643.35 L868.80 643.15 L869.20 643.10 L869.30 643.10 L869.80 643.12 L870.30 643.16 L870.80 643.23 L871.30 643.31 L871.80 643.42 L872.30 643.54 L872.80 643.68 L873.30 643.83 L873.80 644.00 L874.30 644.18 L874.80 644.36 L875.30 644.56 L875.40 644.60 L875.80 644.83 L876.30 645.29 L876.80 645.89 L877.30 646.57 L877.80 647.27 L878.30 647.94 L878.80 648.52 L879.30 648.95 L879.80 649.18 L880.00 649.20 L880.30 649.19 L880.80 649.11 L881.30 648.98 L881.80 648.81 L882.30 648.62 L882.80 648.41 L883.30 648.20 L883.80 648.02 L884.30 647.86 L884.80 647.75 L885.30 647.70 L885.40 647.70 L885.80 647.85 L886.30 648.39 L886.80 649.23 L887.30 650.26 L887.80 651.37 L888.30 652.47 L888.80 653.44 L889.30 654.17 L889.80 654.56 L890.00 654.60 L890.30 654.60 L890.80 654.57 L891.30 654.53 L891.80 654.48 L892.30 654.41 L892.80 654.33 L893.30 654.24 L893.80 654.14 L894.30 654.04 L894.80 653.93 L895.30 653.82 L895.40 653.80 L895.80 653.71 L896.30 653.58 L896.80 653.44 L897.30 653.28 L897.80 653.11 L898.30 652.93 L898.80 652.73 L899.30 652.52 L899.80 652.29 L900.30 652.06 L900.80 651.81 L901.30 651.55 L901.80 651.29 L902.30 651.01 L902.80 650.72 L903.30 650.43 L903.80 650.12"/>
</g>
<g stroke="#000" stroke-width="2" fill="none" stroke-linecap="butt">
<path d="M122.9 70.9 V690.2"/>
<path d="M111.4 690.2 H904.8"/>
<path d="M117.10 638.68 H122.8"/>
<path d="M111.50 587.15 H122.8"/>
<path d="M117.10 535.62 H122.8"/>
<path d="M111.50 484.10 H122.8"/>
<path d="M117.10 432.58 H122.8"/>
<path d="M111.50 381.05 H122.8"/>
<path d="M117.10 329.53 H122.8"/>
<path d="M111.50 278.00 H122.8"/>
<path d="M117.10 226.48 H122.8"/>
<path d="M111.50 174.95 H122.8"/>
<path d="M117.10 123.43 H122.8"/>
<path d="M111.50 71.90 H122.8"/>
<path d="M160.00 690.2 V701.20"/>
<path d="M206.50 690.2 V695.40"/>
<path d="M253.00 690.2 V701.20"/>
<path d="M299.50 690.2 V695.40"/>
<path d="M346.00 690.2 V701.20"/>
<path d="M392.50 690.2 V695.40"/>
<path d="M439.00 690.2 V701.20"/>
<path d="M485.50 690.2 V695.40"/>
<path d="M532.00 690.2 V701.20"/>
<path d="M578.50 690.2 V695.40"/>
<path d="M625.00 690.2 V701.20"/>
<path d="M671.50 690.2 V695.40"/>
<path d="M718.00 690.2 V701.20"/>
<path d="M764.50 690.2 V695.40"/>
<path d="M811.00 690.2 V701.20"/>
<path d="M857.50 690.2 V695.40"/>
<path d="M904.00 690.2 V701.20"/>
</g>
<g font-size="25" text-anchor="end">
<text x="103.7" y="697.70">0</text>
<text x="103.7" y="594.65">100</text>
<text x="103.7" y="491.60">200</text>
<text x="103.7" y="388.55">300</text>
<text x="103.7" y="285.50">400</text>
<text x="103.7" y="182.45">500</text>
<text x="103.7" y="79.40">600</text>
</g>
<g font-size="25" text-anchor="middle">
<text x="160.00" y="728.2">5</text>
<text x="253.00" y="728.2">10</text>
<text x="346.00" y="728.2">15</text>
<text x="439.00" y="728.2">20</text>
<text x="532.00" y="728.2">25</text>
<text x="625.00" y="728.2">30</text>
<text x="718.00" y="728.2">35</text>
<text x="811.00" y="728.2">40</text>
<text x="904.00" y="728.2">45</text>
</g>
<text x="427.3" y="766.7" font-size="30.5" transform="translate(427.3 0) scale(1.06 1) translate(-427.3 0)">2</text>
<text transform="translate(445.6 766.7) scale(1.14 1)" font-size="30.5" font-family="Liberation Serif" style="font-family:'Liberation Serif',serif">θ</text>
<text x="468.5" y="766.7" font-size="30.5" textLength="131.8">(degrees)</text>
<text transform="translate(25.1 362.05) rotate(-90)" font-size="31.2" text-anchor="middle" textLength="363.1">Intensity / 1000 (counts / s)</text>
<rect x="135" y="5.3" width="833" height="114.2" fill="#fff" stroke="#555" stroke-width="1.5"/>
<g stroke-width="2.2" stroke-linecap="butt">
<path d="M138 26.1 H206.6" stroke="#0707dc"/>
<path d="M138 62.9 H206.6" stroke="#e0383a"/>
<path d="M138 99.75 H206.6" stroke="#000"/>
</g>
<g font-size="27.6">
<text x="213.6" y="36.4" textLength="88.6">GDC-A</text>
<text x="213.6" y="73.2" textLength="575.1">Suspension-based PulmoSphere (R19017), t=0</text>
<text x="213.6" y="109.7" textLength="752.3">Suspension-based PulmoSphere (R19017), 26 months at 20C</text>
</g>
</svg>
</body></html>
